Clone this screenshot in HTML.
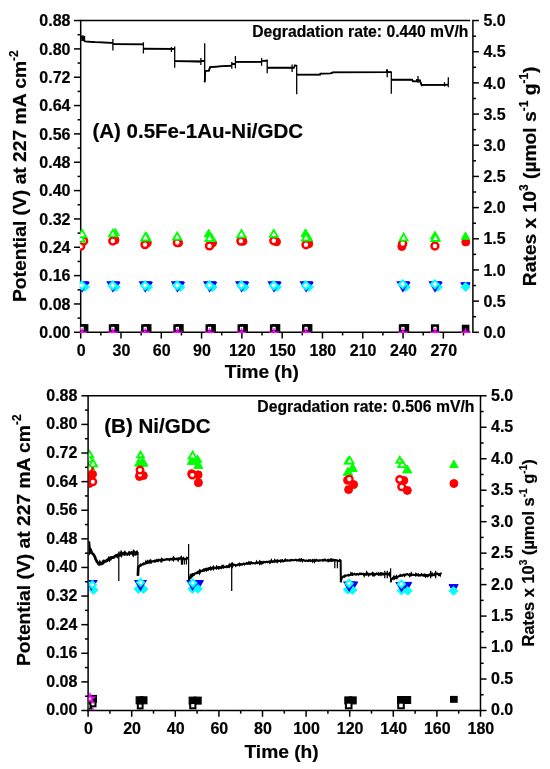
<!DOCTYPE html>
<html><head><meta charset="utf-8"><title>Degradation</title>
<style>html,body{margin:0;padding:0;background:#fff;}svg{display:block;will-change:transform;}text{font-family:"Liberation Sans",sans-serif;font-weight:bold;fill:#000;stroke:#000;stroke-width:0.2px;}</style>
</head><body>
<svg width="550" height="769" viewBox="0 0 550 769">
<rect width="550" height="769" fill="#fff"/>
<defs>
<clipPath id="cA"><rect x="79.95" y="20.55" width="390.40" height="312.50"/></clipPath>
<clipPath id="cB"><rect x="88.80" y="395.80" width="392.40" height="314.10"/></clipPath>
</defs>
<line x1="80.70" y1="20.55" x2="80.70" y2="333.05" stroke="#000" stroke-width="1.5"/>
<line x1="79.95" y1="332.30" x2="470.20" y2="332.30" stroke="#000" stroke-width="1.5"/>
<line x1="79.95" y1="20.55" x2="470.20" y2="20.55" stroke="#000" stroke-width="1.5"/>
<line x1="472.90" y1="19.80" x2="472.90" y2="333.05" stroke="#000" stroke-width="1.5"/>
<line x1="73.95" y1="332.30" x2="80.70" y2="332.30" stroke="#000" stroke-width="1.5"/>
<text x="70.50" y="338.00" font-size="16" text-anchor="end" font-family="Liberation Sans, sans-serif" font-weight="bold" >0.00</text>
<line x1="77.55" y1="318.13" x2="80.70" y2="318.13" stroke="#000" stroke-width="1.5"/>
<line x1="73.95" y1="303.96" x2="80.70" y2="303.96" stroke="#000" stroke-width="1.5"/>
<text x="70.50" y="309.66" font-size="16" text-anchor="end" font-family="Liberation Sans, sans-serif" font-weight="bold" >0.08</text>
<line x1="77.55" y1="289.79" x2="80.70" y2="289.79" stroke="#000" stroke-width="1.5"/>
<line x1="73.95" y1="275.62" x2="80.70" y2="275.62" stroke="#000" stroke-width="1.5"/>
<text x="70.50" y="281.32" font-size="16" text-anchor="end" font-family="Liberation Sans, sans-serif" font-weight="bold" >0.16</text>
<line x1="77.55" y1="261.45" x2="80.70" y2="261.45" stroke="#000" stroke-width="1.5"/>
<line x1="73.95" y1="247.28" x2="80.70" y2="247.28" stroke="#000" stroke-width="1.5"/>
<text x="70.50" y="252.98" font-size="16" text-anchor="end" font-family="Liberation Sans, sans-serif" font-weight="bold" >0.24</text>
<line x1="77.55" y1="233.11" x2="80.70" y2="233.11" stroke="#000" stroke-width="1.5"/>
<line x1="73.95" y1="218.94" x2="80.70" y2="218.94" stroke="#000" stroke-width="1.5"/>
<text x="70.50" y="224.64" font-size="16" text-anchor="end" font-family="Liberation Sans, sans-serif" font-weight="bold" >0.32</text>
<line x1="77.55" y1="204.77" x2="80.70" y2="204.77" stroke="#000" stroke-width="1.5"/>
<line x1="73.95" y1="190.60" x2="80.70" y2="190.60" stroke="#000" stroke-width="1.5"/>
<text x="70.50" y="196.30" font-size="16" text-anchor="end" font-family="Liberation Sans, sans-serif" font-weight="bold" >0.40</text>
<line x1="77.55" y1="176.43" x2="80.70" y2="176.43" stroke="#000" stroke-width="1.5"/>
<line x1="73.95" y1="162.25" x2="80.70" y2="162.25" stroke="#000" stroke-width="1.5"/>
<text x="70.50" y="167.95" font-size="16" text-anchor="end" font-family="Liberation Sans, sans-serif" font-weight="bold" >0.48</text>
<line x1="77.55" y1="148.08" x2="80.70" y2="148.08" stroke="#000" stroke-width="1.5"/>
<line x1="73.95" y1="133.91" x2="80.70" y2="133.91" stroke="#000" stroke-width="1.5"/>
<text x="70.50" y="139.61" font-size="16" text-anchor="end" font-family="Liberation Sans, sans-serif" font-weight="bold" >0.56</text>
<line x1="77.55" y1="119.74" x2="80.70" y2="119.74" stroke="#000" stroke-width="1.5"/>
<line x1="73.95" y1="105.57" x2="80.70" y2="105.57" stroke="#000" stroke-width="1.5"/>
<text x="70.50" y="111.27" font-size="16" text-anchor="end" font-family="Liberation Sans, sans-serif" font-weight="bold" >0.64</text>
<line x1="77.55" y1="91.40" x2="80.70" y2="91.40" stroke="#000" stroke-width="1.5"/>
<line x1="73.95" y1="77.23" x2="80.70" y2="77.23" stroke="#000" stroke-width="1.5"/>
<text x="70.50" y="82.93" font-size="16" text-anchor="end" font-family="Liberation Sans, sans-serif" font-weight="bold" >0.72</text>
<line x1="77.55" y1="63.06" x2="80.70" y2="63.06" stroke="#000" stroke-width="1.5"/>
<line x1="73.95" y1="48.89" x2="80.70" y2="48.89" stroke="#000" stroke-width="1.5"/>
<text x="70.50" y="54.59" font-size="16" text-anchor="end" font-family="Liberation Sans, sans-serif" font-weight="bold" >0.80</text>
<line x1="77.55" y1="34.72" x2="80.70" y2="34.72" stroke="#000" stroke-width="1.5"/>
<line x1="73.95" y1="20.55" x2="80.70" y2="20.55" stroke="#000" stroke-width="1.5"/>
<text x="70.50" y="26.25" font-size="16" text-anchor="end" font-family="Liberation Sans, sans-serif" font-weight="bold" >0.88</text>
<line x1="472.90" y1="332.30" x2="478.95" y2="332.30" stroke="#000" stroke-width="1.5"/>
<text x="483.40" y="338.00" font-size="16" text-anchor="start" font-family="Liberation Sans, sans-serif" font-weight="bold" >0.0</text>
<line x1="472.90" y1="316.71" x2="476.05" y2="316.71" stroke="#000" stroke-width="1.5"/>
<line x1="472.90" y1="301.12" x2="478.95" y2="301.12" stroke="#000" stroke-width="1.5"/>
<text x="483.40" y="306.82" font-size="16" text-anchor="start" font-family="Liberation Sans, sans-serif" font-weight="bold" >0.5</text>
<line x1="472.90" y1="285.54" x2="476.05" y2="285.54" stroke="#000" stroke-width="1.5"/>
<line x1="472.90" y1="269.95" x2="478.95" y2="269.95" stroke="#000" stroke-width="1.5"/>
<text x="483.40" y="275.65" font-size="16" text-anchor="start" font-family="Liberation Sans, sans-serif" font-weight="bold" >1.0</text>
<line x1="472.90" y1="254.36" x2="476.05" y2="254.36" stroke="#000" stroke-width="1.5"/>
<line x1="472.90" y1="238.78" x2="478.95" y2="238.78" stroke="#000" stroke-width="1.5"/>
<text x="483.40" y="244.47" font-size="16" text-anchor="start" font-family="Liberation Sans, sans-serif" font-weight="bold" >1.5</text>
<line x1="472.90" y1="223.19" x2="476.05" y2="223.19" stroke="#000" stroke-width="1.5"/>
<line x1="472.90" y1="207.60" x2="478.95" y2="207.60" stroke="#000" stroke-width="1.5"/>
<text x="483.40" y="213.30" font-size="16" text-anchor="start" font-family="Liberation Sans, sans-serif" font-weight="bold" >2.0</text>
<line x1="472.90" y1="192.01" x2="476.05" y2="192.01" stroke="#000" stroke-width="1.5"/>
<line x1="472.90" y1="176.43" x2="478.95" y2="176.43" stroke="#000" stroke-width="1.5"/>
<text x="483.40" y="182.12" font-size="16" text-anchor="start" font-family="Liberation Sans, sans-serif" font-weight="bold" >2.5</text>
<line x1="472.90" y1="160.84" x2="476.05" y2="160.84" stroke="#000" stroke-width="1.5"/>
<line x1="472.90" y1="145.25" x2="478.95" y2="145.25" stroke="#000" stroke-width="1.5"/>
<text x="483.40" y="150.95" font-size="16" text-anchor="start" font-family="Liberation Sans, sans-serif" font-weight="bold" >3.0</text>
<line x1="472.90" y1="129.66" x2="476.05" y2="129.66" stroke="#000" stroke-width="1.5"/>
<line x1="472.90" y1="114.08" x2="478.95" y2="114.08" stroke="#000" stroke-width="1.5"/>
<text x="483.40" y="119.78" font-size="16" text-anchor="start" font-family="Liberation Sans, sans-serif" font-weight="bold" >3.5</text>
<line x1="472.90" y1="98.49" x2="476.05" y2="98.49" stroke="#000" stroke-width="1.5"/>
<line x1="472.90" y1="82.90" x2="478.95" y2="82.90" stroke="#000" stroke-width="1.5"/>
<text x="483.40" y="88.60" font-size="16" text-anchor="start" font-family="Liberation Sans, sans-serif" font-weight="bold" >4.0</text>
<line x1="472.90" y1="67.31" x2="476.05" y2="67.31" stroke="#000" stroke-width="1.5"/>
<line x1="472.90" y1="51.73" x2="478.95" y2="51.73" stroke="#000" stroke-width="1.5"/>
<text x="483.40" y="57.43" font-size="16" text-anchor="start" font-family="Liberation Sans, sans-serif" font-weight="bold" >4.5</text>
<line x1="472.90" y1="36.14" x2="476.05" y2="36.14" stroke="#000" stroke-width="1.5"/>
<line x1="472.90" y1="20.55" x2="478.95" y2="20.55" stroke="#000" stroke-width="1.5"/>
<text x="483.40" y="26.25" font-size="16" text-anchor="start" font-family="Liberation Sans, sans-serif" font-weight="bold" >5.0</text>
<line x1="80.70" y1="332.30" x2="80.70" y2="338.55" stroke="#000" stroke-width="1.5"/>
<text x="81.10" y="355.90" font-size="16" text-anchor="middle" font-family="Liberation Sans, sans-serif" font-weight="bold" >0</text>
<line x1="100.85" y1="332.30" x2="100.85" y2="335.45" stroke="#000" stroke-width="1.5"/>
<line x1="120.99" y1="332.30" x2="120.99" y2="338.55" stroke="#000" stroke-width="1.5"/>
<text x="121.39" y="355.90" font-size="16" text-anchor="middle" font-family="Liberation Sans, sans-serif" font-weight="bold" >30</text>
<line x1="141.14" y1="332.30" x2="141.14" y2="335.45" stroke="#000" stroke-width="1.5"/>
<line x1="161.29" y1="332.30" x2="161.29" y2="338.55" stroke="#000" stroke-width="1.5"/>
<text x="161.69" y="355.90" font-size="16" text-anchor="middle" font-family="Liberation Sans, sans-serif" font-weight="bold" >60</text>
<line x1="181.43" y1="332.30" x2="181.43" y2="335.45" stroke="#000" stroke-width="1.5"/>
<line x1="201.58" y1="332.30" x2="201.58" y2="338.55" stroke="#000" stroke-width="1.5"/>
<text x="201.98" y="355.90" font-size="16" text-anchor="middle" font-family="Liberation Sans, sans-serif" font-weight="bold" >90</text>
<line x1="221.73" y1="332.30" x2="221.73" y2="335.45" stroke="#000" stroke-width="1.5"/>
<line x1="241.87" y1="332.30" x2="241.87" y2="338.55" stroke="#000" stroke-width="1.5"/>
<text x="242.27" y="355.90" font-size="16" text-anchor="middle" font-family="Liberation Sans, sans-serif" font-weight="bold" >120</text>
<line x1="262.02" y1="332.30" x2="262.02" y2="335.45" stroke="#000" stroke-width="1.5"/>
<line x1="282.17" y1="332.30" x2="282.17" y2="338.55" stroke="#000" stroke-width="1.5"/>
<text x="282.57" y="355.90" font-size="16" text-anchor="middle" font-family="Liberation Sans, sans-serif" font-weight="bold" >150</text>
<line x1="302.31" y1="332.30" x2="302.31" y2="335.45" stroke="#000" stroke-width="1.5"/>
<line x1="322.46" y1="332.30" x2="322.46" y2="338.55" stroke="#000" stroke-width="1.5"/>
<text x="322.86" y="355.90" font-size="16" text-anchor="middle" font-family="Liberation Sans, sans-serif" font-weight="bold" >180</text>
<line x1="342.61" y1="332.30" x2="342.61" y2="335.45" stroke="#000" stroke-width="1.5"/>
<line x1="362.75" y1="332.30" x2="362.75" y2="338.55" stroke="#000" stroke-width="1.5"/>
<text x="363.15" y="355.90" font-size="16" text-anchor="middle" font-family="Liberation Sans, sans-serif" font-weight="bold" >210</text>
<line x1="382.90" y1="332.30" x2="382.90" y2="335.45" stroke="#000" stroke-width="1.5"/>
<line x1="403.04" y1="332.30" x2="403.04" y2="338.55" stroke="#000" stroke-width="1.5"/>
<text x="403.44" y="355.90" font-size="16" text-anchor="middle" font-family="Liberation Sans, sans-serif" font-weight="bold" >240</text>
<line x1="423.19" y1="332.30" x2="423.19" y2="335.45" stroke="#000" stroke-width="1.5"/>
<line x1="443.34" y1="332.30" x2="443.34" y2="338.55" stroke="#000" stroke-width="1.5"/>
<text x="443.74" y="355.90" font-size="16" text-anchor="middle" font-family="Liberation Sans, sans-serif" font-weight="bold" >270</text>
<line x1="463.48" y1="332.30" x2="463.48" y2="335.45" stroke="#000" stroke-width="1.5"/>
<g clip-path="url(#cA)">
<polyline points="81.5,36.5 83.5,36.5 83.5,40.0 85.0,41.3 95.0,42.2 112.9,42.8 112.9,39.0 112.9,50.4 112.9,44.1 143.4,44.3 143.4,42.3 143.4,53.5 143.4,48.7 171.4,48.9 171.4,47.0 171.4,52.0 171.4,48.9 174.7,48.9 174.7,46.6 174.7,67.7 174.7,61.1 200.9,61.5 200.9,58.0 200.9,65.0 200.9,61.0 204.7,61.0 204.7,43.3 204.7,82.3 205.2,70.8 209.0,70.6 210.0,67.2 220.0,66.3 231.8,65.7 231.8,61.9 231.8,68.8 231.8,64.0 235.4,64.0 235.4,56.0 235.4,68.3 235.4,61.9 261.6,61.9 261.6,58.0 261.6,65.7 261.6,60.8 267.2,60.6 267.2,59.4 267.2,73.3 267.2,67.7 292.1,67.7 292.1,64.4 292.1,72.1 292.1,67.7 294.4,67.7 294.4,65.5 296.7,65.7 296.7,94.2 296.7,74.6 320.0,74.6 320.5,73.6 330.7,73.4 333.0,72.3 386.7,72.1 387.2,69.5 387.2,77.2 387.2,72.1 391.3,72.1 391.3,93.7 391.3,79.7 412.0,79.7 413.0,81.3 416.5,81.3 417.0,79.9 418.0,79.9 418.0,75.9 418.0,83.0 418.0,80.5 420.0,80.5 420.5,82.5 421.8,85.3 423.0,84.8 444.5,84.8 444.5,82.3 444.5,86.6 444.5,84.8 448.3,84.6 448.3,77.2 448.3,87.3" fill="none" stroke="#000" stroke-width="1.3" stroke-linejoin="miter"/>
<polyline points="81.5,36.5 83.5,36.5" fill="none" stroke="#000" stroke-width="1.85" stroke-linejoin="miter"/>
<polyline points="83.5,40.0 85.0,41.3 95.0,42.2 112.9,42.8" fill="none" stroke="#000" stroke-width="1.85" stroke-linejoin="miter"/>
<polyline points="112.9,44.1 143.4,44.3" fill="none" stroke="#000" stroke-width="1.85" stroke-linejoin="miter"/>
<polyline points="143.4,48.7 171.4,48.9" fill="none" stroke="#000" stroke-width="1.85" stroke-linejoin="miter"/>
<polyline points="171.4,48.9 174.7,48.9" fill="none" stroke="#000" stroke-width="1.85" stroke-linejoin="miter"/>
<polyline points="174.7,61.1 200.9,61.5" fill="none" stroke="#000" stroke-width="1.85" stroke-linejoin="miter"/>
<polyline points="200.9,61.0 204.7,61.0" fill="none" stroke="#000" stroke-width="1.85" stroke-linejoin="miter"/>
<polyline points="204.7,82.3 205.2,70.8 209.0,70.6 210.0,67.2 220.0,66.3 231.8,65.7" fill="none" stroke="#000" stroke-width="1.85" stroke-linejoin="miter"/>
<polyline points="231.8,64.0 235.4,64.0" fill="none" stroke="#000" stroke-width="1.85" stroke-linejoin="miter"/>
<polyline points="235.4,61.9 261.6,61.9" fill="none" stroke="#000" stroke-width="1.85" stroke-linejoin="miter"/>
<polyline points="261.6,60.8 267.2,60.6" fill="none" stroke="#000" stroke-width="1.85" stroke-linejoin="miter"/>
<polyline points="267.2,67.7 292.1,67.7" fill="none" stroke="#000" stroke-width="1.85" stroke-linejoin="miter"/>
<polyline points="292.1,67.7 294.4,67.7" fill="none" stroke="#000" stroke-width="1.85" stroke-linejoin="miter"/>
<polyline points="294.4,65.5 296.7,65.7" fill="none" stroke="#000" stroke-width="1.85" stroke-linejoin="miter"/>
<polyline points="296.7,74.6 320.0,74.6 320.5,73.6 330.7,73.4 333.0,72.3 386.7,72.1 387.2,69.5" fill="none" stroke="#000" stroke-width="1.85" stroke-linejoin="miter"/>
<polyline points="387.2,72.1 391.3,72.1" fill="none" stroke="#000" stroke-width="1.85" stroke-linejoin="miter"/>
<polyline points="391.3,79.7 412.0,79.7 413.0,81.3 416.5,81.3 417.0,79.9 418.0,79.9" fill="none" stroke="#000" stroke-width="1.85" stroke-linejoin="miter"/>
<polyline points="418.0,80.5 420.0,80.5 420.5,82.5 421.8,85.3 423.0,84.8 444.5,84.8" fill="none" stroke="#000" stroke-width="1.85" stroke-linejoin="miter"/>
<polyline points="444.5,84.8 448.3,84.6" fill="none" stroke="#000" stroke-width="1.85" stroke-linejoin="miter"/>
<rect x="81.2" y="36.0" width="4.0" height="4.9" fill="#000"/>
<rect x="81.45" y="325.35" width="5.70" height="5.70" fill="#000000" stroke="#000000" stroke-width="2.5"/>
<rect x="112.25" y="325.35" width="5.70" height="5.70" fill="#000000" stroke="#000000" stroke-width="2.5"/>
<rect x="144.55" y="325.35" width="5.70" height="5.70" fill="#000000" stroke="#000000" stroke-width="2.5"/>
<rect x="176.75" y="325.35" width="5.70" height="5.70" fill="#000000" stroke="#000000" stroke-width="2.5"/>
<rect x="208.95" y="325.35" width="5.70" height="5.70" fill="#000000" stroke="#000000" stroke-width="2.5"/>
<rect x="240.95" y="325.35" width="5.70" height="5.70" fill="#000000" stroke="#000000" stroke-width="2.5"/>
<rect x="273.35" y="325.35" width="5.70" height="5.70" fill="#000000" stroke="#000000" stroke-width="2.5"/>
<rect x="305.45" y="325.35" width="5.70" height="5.70" fill="#000000" stroke="#000000" stroke-width="2.5"/>
<rect x="402.25" y="325.35" width="5.70" height="5.70" fill="#000000" stroke="#000000" stroke-width="2.5"/>
<rect x="463.05" y="325.95" width="5.10" height="5.10" fill="#000000" stroke="#000000" stroke-width="2.5"/>
<circle cx="115.00" cy="240.00" r="4.00" fill="#ff0000" stroke="#ff0000" stroke-width="1.0"/>
<circle cx="147.30" cy="242.80" r="4.00" fill="#ff0000" stroke="#ff0000" stroke-width="1.0"/>
<circle cx="178.60" cy="242.80" r="4.00" fill="#ff0000" stroke="#ff0000" stroke-width="1.0"/>
<circle cx="212.50" cy="243.00" r="4.00" fill="#ff0000" stroke="#ff0000" stroke-width="1.0"/>
<circle cx="243.00" cy="241.30" r="4.00" fill="#ff0000" stroke="#ff0000" stroke-width="1.0"/>
<circle cx="276.50" cy="241.80" r="4.00" fill="#ff0000" stroke="#ff0000" stroke-width="1.0"/>
<circle cx="308.80" cy="243.80" r="4.00" fill="#ff0000" stroke="#ff0000" stroke-width="1.0"/>
<circle cx="401.80" cy="246.50" r="4.00" fill="#ff0000" stroke="#ff0000" stroke-width="1.0"/>
<circle cx="465.80" cy="242.00" r="4.00" fill="#ff0000" stroke="#ff0000" stroke-width="1.0"/>
<polygon points="115.30,228.40 111.09,235.70 119.51,235.70" fill="#00ff00" stroke="#00ff00" stroke-width="1.0" stroke-linejoin="miter" stroke-miterlimit="10"/>
<polygon points="146.50,232.60 141.88,240.60 151.12,240.60" fill="#00ff00" stroke="#00ff00" stroke-width="1.0" stroke-linejoin="miter" stroke-miterlimit="10"/>
<polygon points="208.70,229.20 204.20,237.00 213.20,237.00" fill="#00ff00" stroke="#00ff00" stroke-width="1.0" stroke-linejoin="miter" stroke-miterlimit="10"/>
<polygon points="211.50,233.30 206.88,241.30 216.12,241.30" fill="#00ff00" stroke="#00ff00" stroke-width="1.0" stroke-linejoin="miter" stroke-miterlimit="10"/>
<polygon points="305.50,228.80 301.05,236.50 309.95,236.50" fill="#00ff00" stroke="#00ff00" stroke-width="1.0" stroke-linejoin="miter" stroke-miterlimit="10"/>
<polygon points="308.00,232.80 303.50,240.60 312.50,240.60" fill="#00ff00" stroke="#00ff00" stroke-width="1.0" stroke-linejoin="miter" stroke-miterlimit="10"/>
<polygon points="434.90,231.20 430.40,239.00 439.40,239.00" fill="#00ff00" stroke="#00ff00" stroke-width="1.0" stroke-linejoin="miter" stroke-miterlimit="10"/>
<polygon points="465.50,232.10 461.34,239.30 469.66,239.30" fill="#00ff00" stroke="#00ff00" stroke-width="1.0" stroke-linejoin="miter" stroke-miterlimit="10"/>
<polygon points="84.30,290.60 79.39,282.10 89.21,282.10" fill="#0000ff" stroke="#0000ff" stroke-width="1.0" stroke-linejoin="miter" stroke-miterlimit="10"/>
<polygon points="115.10,290.60 110.19,282.10 120.01,282.10" fill="#0000ff" stroke="#0000ff" stroke-width="1.0" stroke-linejoin="miter" stroke-miterlimit="10"/>
<polygon points="147.40,290.60 142.49,282.10 152.31,282.10" fill="#0000ff" stroke="#0000ff" stroke-width="1.0" stroke-linejoin="miter" stroke-miterlimit="10"/>
<polygon points="179.60,290.60 174.69,282.10 184.51,282.10" fill="#0000ff" stroke="#0000ff" stroke-width="1.0" stroke-linejoin="miter" stroke-miterlimit="10"/>
<polygon points="211.80,290.60 206.89,282.10 216.71,282.10" fill="#0000ff" stroke="#0000ff" stroke-width="1.0" stroke-linejoin="miter" stroke-miterlimit="10"/>
<polygon points="243.80,290.60 238.89,282.10 248.71,282.10" fill="#0000ff" stroke="#0000ff" stroke-width="1.0" stroke-linejoin="miter" stroke-miterlimit="10"/>
<polygon points="276.20,290.60 271.29,282.10 281.11,282.10" fill="#0000ff" stroke="#0000ff" stroke-width="1.0" stroke-linejoin="miter" stroke-miterlimit="10"/>
<polygon points="308.30,290.60 303.39,282.10 313.21,282.10" fill="#0000ff" stroke="#0000ff" stroke-width="1.0" stroke-linejoin="miter" stroke-miterlimit="10"/>
<polygon points="405.10,290.60 400.19,282.10 410.01,282.10" fill="#0000ff" stroke="#0000ff" stroke-width="1.0" stroke-linejoin="miter" stroke-miterlimit="10"/>
<polygon points="437.20,290.60 432.29,282.10 442.11,282.10" fill="#0000ff" stroke="#0000ff" stroke-width="1.0" stroke-linejoin="miter" stroke-miterlimit="10"/>
<polygon points="465.60,291.00 460.81,282.70 470.39,282.70" fill="#0000ff" stroke="#0000ff" stroke-width="1.0" stroke-linejoin="miter" stroke-miterlimit="10"/>
<polygon points="85.10,282.81 89.39,287.10 85.10,291.39 80.81,287.10" fill="#00ffff" stroke="#00ffff" stroke-width="1.0" stroke-linejoin="miter"/>
<polygon points="115.90,282.81 120.19,287.10 115.90,291.39 111.61,287.10" fill="#00ffff" stroke="#00ffff" stroke-width="1.0" stroke-linejoin="miter"/>
<polygon points="148.20,282.81 152.49,287.10 148.20,291.39 143.91,287.10" fill="#00ffff" stroke="#00ffff" stroke-width="1.0" stroke-linejoin="miter"/>
<polygon points="180.40,282.81 184.69,287.10 180.40,291.39 176.11,287.10" fill="#00ffff" stroke="#00ffff" stroke-width="1.0" stroke-linejoin="miter"/>
<polygon points="212.60,282.81 216.89,287.10 212.60,291.39 208.31,287.10" fill="#00ffff" stroke="#00ffff" stroke-width="1.0" stroke-linejoin="miter"/>
<polygon points="244.60,282.81 248.89,287.10 244.60,291.39 240.31,287.10" fill="#00ffff" stroke="#00ffff" stroke-width="1.0" stroke-linejoin="miter"/>
<polygon points="277.00,282.81 281.29,287.10 277.00,291.39 272.71,287.10" fill="#00ffff" stroke="#00ffff" stroke-width="1.0" stroke-linejoin="miter"/>
<polygon points="309.10,282.81 313.39,287.10 309.10,291.39 304.81,287.10" fill="#00ffff" stroke="#00ffff" stroke-width="1.0" stroke-linejoin="miter"/>
<polygon points="405.90,282.81 410.19,287.10 405.90,291.39 401.61,287.10" fill="#00ffff" stroke="#00ffff" stroke-width="1.0" stroke-linejoin="miter"/>
<polygon points="438.00,282.81 442.29,287.10 438.00,291.39 433.71,287.10" fill="#00ffff" stroke="#00ffff" stroke-width="1.0" stroke-linejoin="miter"/>
<polygon points="465.60,282.41 470.09,286.90 465.60,291.39 461.11,286.90" fill="#00ffff" stroke="#00ffff" stroke-width="1.0" stroke-linejoin="miter"/>
<rect x="79.25" y="325.55" width="5.70" height="5.70" fill="#fff" stroke="#000000" stroke-width="2.5"/>
<rect x="110.05" y="325.55" width="5.70" height="5.70" fill="#fff" stroke="#000000" stroke-width="2.5"/>
<rect x="142.35" y="325.55" width="5.70" height="5.70" fill="#fff" stroke="#000000" stroke-width="2.5"/>
<rect x="174.55" y="325.55" width="5.70" height="5.70" fill="#fff" stroke="#000000" stroke-width="2.5"/>
<rect x="206.75" y="325.55" width="5.70" height="5.70" fill="#fff" stroke="#000000" stroke-width="2.5"/>
<rect x="238.75" y="325.55" width="5.70" height="5.70" fill="#fff" stroke="#000000" stroke-width="2.5"/>
<rect x="271.15" y="325.55" width="5.70" height="5.70" fill="#fff" stroke="#000000" stroke-width="2.5"/>
<rect x="303.25" y="325.55" width="5.70" height="5.70" fill="#fff" stroke="#000000" stroke-width="2.5"/>
<rect x="400.05" y="325.55" width="5.70" height="5.70" fill="#fff" stroke="#000000" stroke-width="2.5"/>
<rect x="432.15" y="325.55" width="5.70" height="5.70" fill="#fff" stroke="#000000" stroke-width="2.5"/>
<circle cx="80.70" cy="246.20" r="3.45" fill="#fff" stroke="#ff0000" stroke-width="2.5"/>
<circle cx="83.70" cy="241.00" r="3.45" fill="#fff" stroke="#ff0000" stroke-width="2.5"/>
<circle cx="112.80" cy="241.00" r="3.45" fill="#fff" stroke="#ff0000" stroke-width="2.5"/>
<circle cx="145.00" cy="244.60" r="3.45" fill="#fff" stroke="#ff0000" stroke-width="2.5"/>
<circle cx="177.30" cy="242.60" r="3.45" fill="#fff" stroke="#ff0000" stroke-width="2.5"/>
<circle cx="209.50" cy="245.90" r="3.45" fill="#fff" stroke="#ff0000" stroke-width="2.5"/>
<circle cx="240.90" cy="241.10" r="3.45" fill="#fff" stroke="#ff0000" stroke-width="2.5"/>
<circle cx="273.80" cy="240.70" r="3.45" fill="#fff" stroke="#ff0000" stroke-width="2.5"/>
<circle cx="306.00" cy="244.70" r="3.45" fill="#fff" stroke="#ff0000" stroke-width="2.5"/>
<circle cx="402.70" cy="243.50" r="3.45" fill="#fff" stroke="#ff0000" stroke-width="2.5"/>
<circle cx="434.90" cy="246.00" r="3.45" fill="#fff" stroke="#ff0000" stroke-width="2.5"/>
<polygon points="80.70,234.55 76.53,241.78 84.87,241.78" fill="#fff" stroke="#00ff00" stroke-width="1.85" stroke-linejoin="miter" stroke-miterlimit="10"/>
<polygon points="82.10,229.85 77.93,237.07 86.27,237.07" fill="#fff" stroke="#00ff00" stroke-width="1.85" stroke-linejoin="miter" stroke-miterlimit="10"/>
<polygon points="112.80,229.85 109.03,236.38 116.57,236.38" fill="#fff" stroke="#00ff00" stroke-width="1.85" stroke-linejoin="miter" stroke-miterlimit="10"/>
<polygon points="145.50,232.95 141.16,240.47 149.84,240.47" fill="#fff" stroke="#00ff00" stroke-width="1.85" stroke-linejoin="miter" stroke-miterlimit="10"/>
<polygon points="177.20,232.65 173.14,239.68 181.26,239.68" fill="#fff" stroke="#00ff00" stroke-width="1.85" stroke-linejoin="miter" stroke-miterlimit="10"/>
<polygon points="209.70,233.95 205.53,241.18 213.87,241.18" fill="#fff" stroke="#00ff00" stroke-width="1.85" stroke-linejoin="miter" stroke-miterlimit="10"/>
<polygon points="241.50,230.05 237.27,237.38 245.73,237.38" fill="#fff" stroke="#00ff00" stroke-width="1.85" stroke-linejoin="miter" stroke-miterlimit="10"/>
<polygon points="273.80,230.05 269.86,236.88 277.74,236.88" fill="#fff" stroke="#00ff00" stroke-width="1.85" stroke-linejoin="miter" stroke-miterlimit="10"/>
<polygon points="306.00,233.45 301.94,240.48 310.06,240.48" fill="#fff" stroke="#00ff00" stroke-width="1.85" stroke-linejoin="miter" stroke-miterlimit="10"/>
<polygon points="403.60,233.65 399.66,240.48 407.54,240.48" fill="#fff" stroke="#00ff00" stroke-width="1.85" stroke-linejoin="miter" stroke-miterlimit="10"/>
<polygon points="435.50,233.95 431.44,240.98 439.56,240.98" fill="#fff" stroke="#00ff00" stroke-width="1.85" stroke-linejoin="miter" stroke-miterlimit="10"/>
<polygon points="82.10,290.80 77.16,282.25 87.04,282.25" fill="#fff" stroke="#0000ff" stroke-width="1.9" stroke-linejoin="miter" stroke-miterlimit="10"/>
<polygon points="112.90,290.80 107.96,282.25 117.84,282.25" fill="#fff" stroke="#0000ff" stroke-width="1.9" stroke-linejoin="miter" stroke-miterlimit="10"/>
<polygon points="145.20,290.80 140.26,282.25 150.14,282.25" fill="#fff" stroke="#0000ff" stroke-width="1.9" stroke-linejoin="miter" stroke-miterlimit="10"/>
<polygon points="177.40,290.80 172.46,282.25 182.34,282.25" fill="#fff" stroke="#0000ff" stroke-width="1.9" stroke-linejoin="miter" stroke-miterlimit="10"/>
<polygon points="209.60,290.80 204.66,282.25 214.54,282.25" fill="#fff" stroke="#0000ff" stroke-width="1.9" stroke-linejoin="miter" stroke-miterlimit="10"/>
<polygon points="241.60,290.80 236.66,282.25 246.54,282.25" fill="#fff" stroke="#0000ff" stroke-width="1.9" stroke-linejoin="miter" stroke-miterlimit="10"/>
<polygon points="274.00,290.80 269.06,282.25 278.94,282.25" fill="#fff" stroke="#0000ff" stroke-width="1.9" stroke-linejoin="miter" stroke-miterlimit="10"/>
<polygon points="306.10,290.80 301.16,282.25 311.04,282.25" fill="#fff" stroke="#0000ff" stroke-width="1.9" stroke-linejoin="miter" stroke-miterlimit="10"/>
<polygon points="402.90,290.80 397.96,282.25 407.84,282.25" fill="#fff" stroke="#0000ff" stroke-width="1.9" stroke-linejoin="miter" stroke-miterlimit="10"/>
<polygon points="435.00,290.80 430.06,282.25 439.94,282.25" fill="#fff" stroke="#0000ff" stroke-width="1.9" stroke-linejoin="miter" stroke-miterlimit="10"/>
<polygon points="81.90,281.51 85.79,285.40 81.90,289.29 78.01,285.40" fill="#fff" stroke="#00ffff" stroke-width="2.0" stroke-linejoin="miter"/>
<polygon points="112.70,281.51 116.59,285.40 112.70,289.29 108.81,285.40" fill="#fff" stroke="#00ffff" stroke-width="2.0" stroke-linejoin="miter"/>
<polygon points="145.00,281.51 148.89,285.40 145.00,289.29 141.11,285.40" fill="#fff" stroke="#00ffff" stroke-width="2.0" stroke-linejoin="miter"/>
<polygon points="177.20,281.51 181.09,285.40 177.20,289.29 173.31,285.40" fill="#fff" stroke="#00ffff" stroke-width="2.0" stroke-linejoin="miter"/>
<polygon points="209.40,281.51 213.29,285.40 209.40,289.29 205.51,285.40" fill="#fff" stroke="#00ffff" stroke-width="2.0" stroke-linejoin="miter"/>
<polygon points="241.40,281.51 245.29,285.40 241.40,289.29 237.51,285.40" fill="#fff" stroke="#00ffff" stroke-width="2.0" stroke-linejoin="miter"/>
<polygon points="273.80,281.51 277.69,285.40 273.80,289.29 269.91,285.40" fill="#fff" stroke="#00ffff" stroke-width="2.0" stroke-linejoin="miter"/>
<polygon points="305.90,281.51 309.79,285.40 305.90,289.29 302.01,285.40" fill="#fff" stroke="#00ffff" stroke-width="2.0" stroke-linejoin="miter"/>
<polygon points="402.70,280.41 406.59,284.30 402.70,288.19 398.81,284.30" fill="#fff" stroke="#00ffff" stroke-width="2.0" stroke-linejoin="miter"/>
<polygon points="434.80,280.41 438.69,284.30 434.80,288.19 430.91,284.30" fill="#fff" stroke="#00ffff" stroke-width="2.0" stroke-linejoin="miter"/>
<polygon points="82.10,327.75 83.41,331.65 87.52,331.69 84.21,334.14 85.45,338.06 82.10,335.67 78.75,338.06 79.99,334.14 76.68,331.69 80.79,331.65" fill="#ff00ff" stroke="#ff00ff" stroke-width="0.4"/>
<polygon points="112.90,327.75 114.21,331.65 118.32,331.69 115.01,334.14 116.25,338.06 112.90,335.67 109.55,338.06 110.79,334.14 107.48,331.69 111.59,331.65" fill="#ff00ff" stroke="#ff00ff" stroke-width="0.4"/>
<polygon points="145.20,327.75 146.51,331.65 150.62,331.69 147.31,334.14 148.55,338.06 145.20,335.67 141.85,338.06 143.09,334.14 139.78,331.69 143.89,331.65" fill="#ff00ff" stroke="#ff00ff" stroke-width="0.4"/>
<polygon points="177.40,327.75 178.71,331.65 182.82,331.69 179.51,334.14 180.75,338.06 177.40,335.67 174.05,338.06 175.29,334.14 171.98,331.69 176.09,331.65" fill="#ff00ff" stroke="#ff00ff" stroke-width="0.4"/>
<polygon points="209.60,327.75 210.91,331.65 215.02,331.69 211.71,334.14 212.95,338.06 209.60,335.67 206.25,338.06 207.49,334.14 204.18,331.69 208.29,331.65" fill="#ff00ff" stroke="#ff00ff" stroke-width="0.4"/>
<polygon points="241.60,327.75 242.91,331.65 247.02,331.69 243.71,334.14 244.95,338.06 241.60,335.67 238.25,338.06 239.49,334.14 236.18,331.69 240.29,331.65" fill="#ff00ff" stroke="#ff00ff" stroke-width="0.4"/>
<polygon points="274.00,327.75 275.31,331.65 279.42,331.69 276.11,334.14 277.35,338.06 274.00,335.67 270.65,338.06 271.89,334.14 268.58,331.69 272.69,331.65" fill="#ff00ff" stroke="#ff00ff" stroke-width="0.4"/>
<polygon points="306.10,327.75 307.41,331.65 311.52,331.69 308.21,334.14 309.45,338.06 306.10,335.67 302.75,338.06 303.99,334.14 300.68,331.69 304.79,331.65" fill="#ff00ff" stroke="#ff00ff" stroke-width="0.4"/>
<polygon points="402.90,327.75 404.21,331.65 408.32,331.69 405.01,334.14 406.25,338.06 402.90,335.67 399.55,338.06 400.79,334.14 397.48,331.69 401.59,331.65" fill="#ff00ff" stroke="#ff00ff" stroke-width="0.4"/>
<polygon points="435.00,327.75 436.31,331.65 440.42,331.69 437.11,334.14 438.35,338.06 435.00,335.67 431.65,338.06 432.89,334.14 429.58,331.69 433.69,331.65" fill="#ff00ff" stroke="#ff00ff" stroke-width="0.4"/>
<polygon points="465.60,327.75 466.91,331.65 471.02,331.69 467.71,334.14 468.95,338.06 465.60,335.67 462.25,338.06 463.49,334.14 460.18,331.69 464.29,331.65" fill="#ff00ff" stroke="#ff00ff" stroke-width="0.4"/>
</g>
<text x="92.40" y="137.60" font-size="20.5" text-anchor="start" font-family="Liberation Sans, sans-serif" font-weight="bold" >(A) 0.5Fe-1Au-Ni/GDC</text>
<text x="468.40" y="36.70" font-size="15.7" text-anchor="end" font-family="Liberation Sans, sans-serif" font-weight="bold" >Degradation rate: 0.440 mV/h</text>
<text x="261.80" y="377.50" font-size="19.1" text-anchor="middle" font-family="Liberation Sans, sans-serif" font-weight="bold" >Time (h)</text>
<text transform="translate(26.40,176.20) rotate(-90)" font-size="19.25" text-anchor="middle" font-family="Liberation Sans, sans-serif" font-weight="bold">Potential (V) at 227 mA cm<tspan font-size="11.9" dy="-8.9">-2</tspan></text>
<text transform="translate(536.40,176.40) rotate(-90)" font-size="19.25" text-anchor="middle" font-family="Liberation Sans, sans-serif" font-weight="bold">Rates x 10<tspan font-size="11.9" dy="-8.9">3</tspan><tspan dy="8.9"> (µmol s</tspan><tspan font-size="11.9" dy="-8.9">-1</tspan><tspan dy="8.9"> g</tspan><tspan font-size="11.9" dy="-8.9">-1</tspan><tspan dy="8.9">)</tspan></text>
<line x1="88.10" y1="395.80" x2="88.10" y2="711.25" stroke="#000" stroke-width="1.5"/>
<line x1="87.35" y1="710.50" x2="481.25" y2="710.50" stroke="#000" stroke-width="1.5"/>
<line x1="87.35" y1="395.80" x2="481.25" y2="395.80" stroke="#000" stroke-width="1.5"/>
<line x1="480.50" y1="395.05" x2="480.50" y2="711.25" stroke="#000" stroke-width="1.5"/>
<line x1="81.35" y1="710.50" x2="88.10" y2="710.50" stroke="#000" stroke-width="1.5"/>
<text x="77.40" y="715.40" font-size="16" text-anchor="end" font-family="Liberation Sans, sans-serif" font-weight="bold" >0.00</text>
<line x1="84.95" y1="696.20" x2="88.10" y2="696.20" stroke="#000" stroke-width="1.5"/>
<line x1="81.35" y1="681.89" x2="88.10" y2="681.89" stroke="#000" stroke-width="1.5"/>
<text x="77.40" y="686.79" font-size="16" text-anchor="end" font-family="Liberation Sans, sans-serif" font-weight="bold" >0.08</text>
<line x1="84.95" y1="667.59" x2="88.10" y2="667.59" stroke="#000" stroke-width="1.5"/>
<line x1="81.35" y1="653.28" x2="88.10" y2="653.28" stroke="#000" stroke-width="1.5"/>
<text x="77.40" y="658.18" font-size="16" text-anchor="end" font-family="Liberation Sans, sans-serif" font-weight="bold" >0.16</text>
<line x1="84.95" y1="638.98" x2="88.10" y2="638.98" stroke="#000" stroke-width="1.5"/>
<line x1="81.35" y1="624.67" x2="88.10" y2="624.67" stroke="#000" stroke-width="1.5"/>
<text x="77.40" y="629.57" font-size="16" text-anchor="end" font-family="Liberation Sans, sans-serif" font-weight="bold" >0.24</text>
<line x1="84.95" y1="610.37" x2="88.10" y2="610.37" stroke="#000" stroke-width="1.5"/>
<line x1="81.35" y1="596.06" x2="88.10" y2="596.06" stroke="#000" stroke-width="1.5"/>
<text x="77.40" y="600.96" font-size="16" text-anchor="end" font-family="Liberation Sans, sans-serif" font-weight="bold" >0.32</text>
<line x1="84.95" y1="581.76" x2="88.10" y2="581.76" stroke="#000" stroke-width="1.5"/>
<line x1="81.35" y1="567.45" x2="88.10" y2="567.45" stroke="#000" stroke-width="1.5"/>
<text x="77.40" y="572.35" font-size="16" text-anchor="end" font-family="Liberation Sans, sans-serif" font-weight="bold" >0.40</text>
<line x1="84.95" y1="553.15" x2="88.10" y2="553.15" stroke="#000" stroke-width="1.5"/>
<line x1="81.35" y1="538.85" x2="88.10" y2="538.85" stroke="#000" stroke-width="1.5"/>
<text x="77.40" y="543.75" font-size="16" text-anchor="end" font-family="Liberation Sans, sans-serif" font-weight="bold" >0.48</text>
<line x1="84.95" y1="524.54" x2="88.10" y2="524.54" stroke="#000" stroke-width="1.5"/>
<line x1="81.35" y1="510.24" x2="88.10" y2="510.24" stroke="#000" stroke-width="1.5"/>
<text x="77.40" y="515.14" font-size="16" text-anchor="end" font-family="Liberation Sans, sans-serif" font-weight="bold" >0.56</text>
<line x1="84.95" y1="495.93" x2="88.10" y2="495.93" stroke="#000" stroke-width="1.5"/>
<line x1="81.35" y1="481.63" x2="88.10" y2="481.63" stroke="#000" stroke-width="1.5"/>
<text x="77.40" y="486.53" font-size="16" text-anchor="end" font-family="Liberation Sans, sans-serif" font-weight="bold" >0.64</text>
<line x1="84.95" y1="467.32" x2="88.10" y2="467.32" stroke="#000" stroke-width="1.5"/>
<line x1="81.35" y1="453.02" x2="88.10" y2="453.02" stroke="#000" stroke-width="1.5"/>
<text x="77.40" y="457.92" font-size="16" text-anchor="end" font-family="Liberation Sans, sans-serif" font-weight="bold" >0.72</text>
<line x1="84.95" y1="438.71" x2="88.10" y2="438.71" stroke="#000" stroke-width="1.5"/>
<line x1="81.35" y1="424.41" x2="88.10" y2="424.41" stroke="#000" stroke-width="1.5"/>
<text x="77.40" y="429.31" font-size="16" text-anchor="end" font-family="Liberation Sans, sans-serif" font-weight="bold" >0.80</text>
<line x1="84.95" y1="410.10" x2="88.10" y2="410.10" stroke="#000" stroke-width="1.5"/>
<line x1="81.35" y1="395.80" x2="88.10" y2="395.80" stroke="#000" stroke-width="1.5"/>
<text x="77.40" y="400.70" font-size="16" text-anchor="end" font-family="Liberation Sans, sans-serif" font-weight="bold" >0.88</text>
<line x1="480.50" y1="710.50" x2="486.55" y2="710.50" stroke="#000" stroke-width="1.5"/>
<text x="491.00" y="715.40" font-size="16" text-anchor="start" font-family="Liberation Sans, sans-serif" font-weight="bold" >0.0</text>
<line x1="480.50" y1="694.76" x2="483.65" y2="694.76" stroke="#000" stroke-width="1.5"/>
<line x1="480.50" y1="679.03" x2="486.55" y2="679.03" stroke="#000" stroke-width="1.5"/>
<text x="491.00" y="683.93" font-size="16" text-anchor="start" font-family="Liberation Sans, sans-serif" font-weight="bold" >0.5</text>
<line x1="480.50" y1="663.29" x2="483.65" y2="663.29" stroke="#000" stroke-width="1.5"/>
<line x1="480.50" y1="647.56" x2="486.55" y2="647.56" stroke="#000" stroke-width="1.5"/>
<text x="491.00" y="652.46" font-size="16" text-anchor="start" font-family="Liberation Sans, sans-serif" font-weight="bold" >1.0</text>
<line x1="480.50" y1="631.83" x2="483.65" y2="631.83" stroke="#000" stroke-width="1.5"/>
<line x1="480.50" y1="616.09" x2="486.55" y2="616.09" stroke="#000" stroke-width="1.5"/>
<text x="491.00" y="620.99" font-size="16" text-anchor="start" font-family="Liberation Sans, sans-serif" font-weight="bold" >1.5</text>
<line x1="480.50" y1="600.36" x2="483.65" y2="600.36" stroke="#000" stroke-width="1.5"/>
<line x1="480.50" y1="584.62" x2="486.55" y2="584.62" stroke="#000" stroke-width="1.5"/>
<text x="491.00" y="589.52" font-size="16" text-anchor="start" font-family="Liberation Sans, sans-serif" font-weight="bold" >2.0</text>
<line x1="480.50" y1="568.88" x2="483.65" y2="568.88" stroke="#000" stroke-width="1.5"/>
<line x1="480.50" y1="553.15" x2="486.55" y2="553.15" stroke="#000" stroke-width="1.5"/>
<text x="491.00" y="558.05" font-size="16" text-anchor="start" font-family="Liberation Sans, sans-serif" font-weight="bold" >2.5</text>
<line x1="480.50" y1="537.41" x2="483.65" y2="537.41" stroke="#000" stroke-width="1.5"/>
<line x1="480.50" y1="521.68" x2="486.55" y2="521.68" stroke="#000" stroke-width="1.5"/>
<text x="491.00" y="526.58" font-size="16" text-anchor="start" font-family="Liberation Sans, sans-serif" font-weight="bold" >3.0</text>
<line x1="480.50" y1="505.94" x2="483.65" y2="505.94" stroke="#000" stroke-width="1.5"/>
<line x1="480.50" y1="490.21" x2="486.55" y2="490.21" stroke="#000" stroke-width="1.5"/>
<text x="491.00" y="495.11" font-size="16" text-anchor="start" font-family="Liberation Sans, sans-serif" font-weight="bold" >3.5</text>
<line x1="480.50" y1="474.48" x2="483.65" y2="474.48" stroke="#000" stroke-width="1.5"/>
<line x1="480.50" y1="458.74" x2="486.55" y2="458.74" stroke="#000" stroke-width="1.5"/>
<text x="491.00" y="463.64" font-size="16" text-anchor="start" font-family="Liberation Sans, sans-serif" font-weight="bold" >4.0</text>
<line x1="480.50" y1="443.00" x2="483.65" y2="443.00" stroke="#000" stroke-width="1.5"/>
<line x1="480.50" y1="427.27" x2="486.55" y2="427.27" stroke="#000" stroke-width="1.5"/>
<text x="491.00" y="432.17" font-size="16" text-anchor="start" font-family="Liberation Sans, sans-serif" font-weight="bold" >4.5</text>
<line x1="480.50" y1="411.53" x2="483.65" y2="411.53" stroke="#000" stroke-width="1.5"/>
<line x1="480.50" y1="395.80" x2="486.55" y2="395.80" stroke="#000" stroke-width="1.5"/>
<text x="491.00" y="400.70" font-size="16" text-anchor="start" font-family="Liberation Sans, sans-serif" font-weight="bold" >5.0</text>
<line x1="88.10" y1="710.50" x2="88.10" y2="716.75" stroke="#000" stroke-width="1.5"/>
<text x="88.50" y="734.10" font-size="16" text-anchor="middle" font-family="Liberation Sans, sans-serif" font-weight="bold" >0</text>
<line x1="109.90" y1="710.50" x2="109.90" y2="713.65" stroke="#000" stroke-width="1.5"/>
<line x1="131.70" y1="710.50" x2="131.70" y2="716.75" stroke="#000" stroke-width="1.5"/>
<text x="132.10" y="734.10" font-size="16" text-anchor="middle" font-family="Liberation Sans, sans-serif" font-weight="bold" >20</text>
<line x1="153.50" y1="710.50" x2="153.50" y2="713.65" stroke="#000" stroke-width="1.5"/>
<line x1="175.30" y1="710.50" x2="175.30" y2="716.75" stroke="#000" stroke-width="1.5"/>
<text x="175.70" y="734.10" font-size="16" text-anchor="middle" font-family="Liberation Sans, sans-serif" font-weight="bold" >40</text>
<line x1="197.10" y1="710.50" x2="197.10" y2="713.65" stroke="#000" stroke-width="1.5"/>
<line x1="218.90" y1="710.50" x2="218.90" y2="716.75" stroke="#000" stroke-width="1.5"/>
<text x="219.30" y="734.10" font-size="16" text-anchor="middle" font-family="Liberation Sans, sans-serif" font-weight="bold" >60</text>
<line x1="240.70" y1="710.50" x2="240.70" y2="713.65" stroke="#000" stroke-width="1.5"/>
<line x1="262.50" y1="710.50" x2="262.50" y2="716.75" stroke="#000" stroke-width="1.5"/>
<text x="262.90" y="734.10" font-size="16" text-anchor="middle" font-family="Liberation Sans, sans-serif" font-weight="bold" >80</text>
<line x1="284.30" y1="710.50" x2="284.30" y2="713.65" stroke="#000" stroke-width="1.5"/>
<line x1="306.10" y1="710.50" x2="306.10" y2="716.75" stroke="#000" stroke-width="1.5"/>
<text x="306.50" y="734.10" font-size="16" text-anchor="middle" font-family="Liberation Sans, sans-serif" font-weight="bold" >100</text>
<line x1="327.90" y1="710.50" x2="327.90" y2="713.65" stroke="#000" stroke-width="1.5"/>
<line x1="349.70" y1="710.50" x2="349.70" y2="716.75" stroke="#000" stroke-width="1.5"/>
<text x="350.10" y="734.10" font-size="16" text-anchor="middle" font-family="Liberation Sans, sans-serif" font-weight="bold" >120</text>
<line x1="371.50" y1="710.50" x2="371.50" y2="713.65" stroke="#000" stroke-width="1.5"/>
<line x1="393.30" y1="710.50" x2="393.30" y2="716.75" stroke="#000" stroke-width="1.5"/>
<text x="393.70" y="734.10" font-size="16" text-anchor="middle" font-family="Liberation Sans, sans-serif" font-weight="bold" >140</text>
<line x1="415.10" y1="710.50" x2="415.10" y2="713.65" stroke="#000" stroke-width="1.5"/>
<line x1="436.90" y1="710.50" x2="436.90" y2="716.75" stroke="#000" stroke-width="1.5"/>
<text x="437.30" y="734.10" font-size="16" text-anchor="middle" font-family="Liberation Sans, sans-serif" font-weight="bold" >160</text>
<line x1="458.70" y1="710.50" x2="458.70" y2="713.65" stroke="#000" stroke-width="1.5"/>
<line x1="480.50" y1="710.50" x2="480.50" y2="716.75" stroke="#000" stroke-width="1.5"/>
<text x="480.90" y="734.10" font-size="16" text-anchor="middle" font-family="Liberation Sans, sans-serif" font-weight="bold" >180</text>
<g clip-path="url(#cB)">
<polyline points="88.8,541.5 89.4,547.0 90.1,551.6 90.5,550.9 91.0,550.5 91.5,552.1 92.0,553.0 92.5,553.4 93.0,554.0 93.4,554.1 93.9,555.4 94.5,556.1 95.0,557.0 95.5,558.9 96.0,559.6 96.5,560.5 97.0,562.1 97.5,562.3 98.0,563.0 98.5,564.0 99.0,564.4 99.5,564.2 100.0,562.6 100.5,563.4 101.0,564.1 101.5,564.0 102.0,563.8 102.5,563.6 103.0,561.6 103.6,561.1 104.1,561.8 104.6,561.1 105.1,561.1 105.5,561.3 106.0,560.9 106.5,561.0 107.0,560.5 107.5,559.8 108.0,559.9 108.5,559.6 108.9,558.7 109.4,559.6 109.9,558.6 110.4,558.0 110.9,558.5 111.4,557.5 112.0,557.4 112.5,557.5 113.0,557.6 113.5,557.2 114.0,557.3 114.5,556.7 115.0,556.3 115.5,555.9 116.0,555.5 116.5,555.6 117.1,556.3 117.6,555.1 118.1,555.4 118.8,555.4 118.8,551.6 118.8,580.9 118.8,555.3 119.3,555.3 119.7,555.2 120.2,554.1 120.6,554.7 121.1,555.2 121.5,553.3 122.0,554.2 122.5,553.9 122.9,553.9 123.4,553.5 123.8,554.0 124.3,553.7 124.8,552.9 125.2,553.9 125.7,553.4 126.2,553.8 126.6,554.1 127.1,554.4 127.5,554.0 128.0,553.9 128.5,553.8 129.0,553.0 129.5,553.8 130.0,553.1 130.5,553.0 131.0,553.1 131.5,552.6 132.0,552.8 132.5,553.1 133.0,554.1 133.5,552.5 134.0,553.6 134.5,552.8 134.9,553.7 135.4,554.2 135.8,553.8 136.3,552.5 136.7,552.2 137.2,553.4 137.9,552.9 137.9,575.8 138.3,566.9 138.9,566.6 139.4,565.6 140.0,565.5 140.5,564.8 141.0,565.4 141.5,565.1 142.0,564.5 142.5,564.2 143.0,564.1 143.5,563.6 143.9,564.1 144.4,563.6 144.8,563.5 145.3,563.4 145.8,562.3 146.2,563.4 146.7,563.2 147.1,562.9 147.6,561.7 148.0,562.4 148.5,562.0 148.9,562.5 149.4,561.3 149.9,561.9 150.4,562.2 150.8,561.1 151.3,562.3 151.8,561.7 152.3,561.3 152.8,561.4 153.2,561.4 153.7,561.0 154.1,561.0 154.6,561.4 155.0,560.6 155.5,560.6 155.9,561.2 156.4,560.7 156.8,560.2 157.3,560.9 157.8,561.1 158.2,560.2 158.7,559.8 159.1,560.3 159.6,560.2 160.0,560.2 160.5,560.0 160.9,560.7 161.4,559.6 161.8,560.5 162.3,559.3 162.7,559.5 163.2,560.0 163.7,560.2 164.1,560.0 164.6,559.7 165.0,559.6 165.5,559.5 165.9,559.6 166.4,559.3 166.9,559.2 167.3,559.4 167.8,559.5 168.2,559.2 168.7,559.5 169.1,559.4 169.6,560.0 170.0,559.3 170.5,558.9 170.9,558.9 171.4,559.1 171.8,559.4 172.3,558.9 172.7,559.2 173.2,559.8 173.6,557.9 174.1,558.5 174.5,559.0 175.0,558.9 175.5,559.1 176.0,559.0 176.4,558.7 176.9,559.1 177.4,558.9 177.9,558.6 178.3,559.8 178.8,558.9 179.3,558.5 179.8,558.7 180.3,558.6 180.7,558.7 181.2,557.6 181.7,558.7 182.0,564.6 182.0,558.7 182.5,558.5 182.9,559.1 183.4,558.2 183.8,558.7 184.3,558.7 184.3,564.6 184.3,558.7 184.8,559.1 185.4,559.0 185.9,559.2 186.4,558.5 186.4,564.4 186.4,558.5 186.9,557.8 187.5,558.4 188.1,558.4 188.6,558.5 188.6,544.0 188.6,579.6 189.1,579.2 189.5,578.3 190.0,578.2 190.5,576.0 191.0,577.0 191.5,576.0 192.0,575.0 192.5,575.6 192.9,574.3 193.4,574.6 193.9,574.7 194.4,573.8 194.9,573.5 195.4,573.4 195.9,573.4 196.5,572.8 197.0,572.5 197.5,572.9 198.0,572.0 198.5,572.3 199.0,571.6 199.5,572.7 200.0,570.9 200.5,571.6 201.0,570.9 201.5,570.9 202.0,570.7 202.5,570.9 202.9,570.5 203.4,570.6 203.8,569.5 204.3,569.4 204.7,570.2 205.2,569.4 205.6,569.3 206.1,568.9 206.5,570.0 207.0,569.3 207.5,569.5 207.9,569.7 208.4,568.6 208.9,568.9 209.4,568.3 209.8,569.0 210.3,569.3 210.8,568.1 211.3,569.1 211.7,568.7 212.2,568.2 212.7,568.1 213.2,567.3 213.6,568.6 214.1,567.9 214.6,567.7 215.1,568.0 215.6,568.0 216.1,568.4 216.6,567.2 217.0,568.1 217.5,568.2 218.0,567.5 218.5,568.1 218.9,567.3 219.4,567.1 219.9,567.8 220.3,567.3 220.8,567.3 221.3,567.8 221.7,567.1 222.2,566.2 222.7,566.9 223.1,566.3 223.6,567.4 224.1,567.1 224.5,566.7 225.0,566.9 225.4,566.8 225.9,567.0 226.3,566.6 226.8,567.0 227.2,566.3 227.7,566.7 228.2,566.8 228.6,566.7 229.1,565.6 229.5,566.2 230.0,564.9 230.4,565.6 231.1,565.1 231.7,565.5 231.7,562.6 231.7,591.0 231.7,565.3 232.2,564.4 232.6,565.7 233.1,564.6 233.5,565.1 234.0,565.0 234.5,565.0 234.9,564.7 235.4,565.0 235.8,565.6 236.3,564.9 236.8,565.0 237.2,565.1 237.7,564.6 238.2,564.2 238.6,564.4 239.1,565.0 239.5,563.9 240.0,564.5 240.5,564.2 240.9,564.8 241.4,564.7 241.8,564.3 242.3,564.6 242.8,564.3 243.2,563.7 243.7,563.5 244.2,563.8 244.6,564.4 245.1,563.7 245.5,563.6 246.0,563.6 246.5,563.2 246.9,563.7 247.4,563.3 247.8,563.8 248.3,563.6 248.8,562.7 249.2,563.6 249.7,563.2 250.1,562.7 250.6,563.7 251.1,563.2 251.5,562.5 252.0,562.9 252.5,563.3 252.9,563.0 253.4,563.4 253.8,563.4 254.3,563.3 254.8,563.1 255.2,563.5 255.7,563.2 256.2,563.0 256.6,562.0 257.1,563.1 257.5,563.2 258.0,562.7 258.5,562.5 258.9,562.4 259.4,563.3 259.8,561.9 260.3,562.7 260.8,563.4 261.2,562.1 261.7,562.6 262.1,563.1 262.6,562.3 263.1,562.5 263.5,562.6 264.0,561.8 264.5,562.1 264.9,562.2 265.4,562.4 265.8,562.0 266.3,561.9 266.8,561.6 267.2,561.8 267.7,562.2 268.1,561.9 268.6,561.8 269.1,561.4 269.5,561.4 270.0,562.7 270.5,562.1 270.9,561.8 271.4,560.5 271.9,561.7 272.3,561.6 272.8,562.0 273.3,561.5 273.7,561.3 274.2,561.5 274.7,560.5 275.1,561.6 275.6,561.3 276.1,560.8 276.5,561.5 277.0,561.0 277.5,561.7 277.9,560.4 278.4,560.7 278.9,561.0 279.4,560.9 279.8,560.7 280.3,560.5 280.8,561.6 281.2,561.2 281.7,560.3 282.2,560.2 282.6,561.3 283.1,561.1 283.6,561.3 284.0,560.9 284.5,560.3 285.0,560.7 285.5,559.7 285.9,560.2 286.4,560.5 286.9,560.5 287.3,560.7 287.8,560.2 288.2,560.4 288.7,560.6 289.1,560.5 289.6,560.6 290.0,560.4 290.5,560.2 290.9,560.6 291.4,560.3 291.8,559.9 292.3,560.0 292.7,560.2 293.2,560.1 293.6,560.2 294.1,560.1 294.5,560.2 295.0,560.1 295.5,560.1 295.9,559.7 296.4,560.3 296.8,560.6 297.3,560.3 297.7,560.1 298.2,560.4 298.6,559.9 299.1,559.5 299.5,560.3 300.0,559.9 300.4,560.6 300.9,559.9 301.4,559.3 301.8,559.9 302.3,560.9 302.7,560.2 303.2,559.9 303.6,560.1 304.1,560.6 304.5,560.6 305.0,560.5 305.4,561.0 305.9,560.7 306.3,560.5 306.8,560.5 307.3,560.7 307.7,561.1 308.2,560.8 308.6,560.9 309.1,560.1 309.5,560.4 310.0,560.7 310.4,560.3 310.9,560.8 311.4,560.7 311.8,560.8 312.3,560.3 312.7,561.4 313.2,560.9 313.6,560.3 314.1,560.4 314.5,561.4 315.0,560.2 315.4,560.7 315.9,560.7 316.4,560.4 316.8,559.9 317.3,560.4 317.7,560.5 318.2,560.8 318.6,560.6 319.1,560.3 319.5,560.6 320.0,560.3 320.5,560.5 320.9,560.4 321.4,560.3 321.9,560.2 322.3,560.6 322.8,559.9 323.2,560.1 323.7,560.4 324.2,559.8 324.6,560.2 325.1,559.6 325.6,560.1 326.0,560.6 326.5,560.6 326.9,560.4 327.4,560.3 327.9,559.9 328.3,561.1 328.8,560.6 329.2,560.8 329.7,560.1 330.2,560.4 330.6,559.8 331.1,560.7 331.6,560.8 332.0,559.7 332.5,560.4 332.9,560.7 333.4,559.8 333.9,559.8 334.3,560.1 334.8,560.5 334.8,568.2 334.8,560.5 335.3,560.3 335.8,560.0 336.4,560.5 336.9,560.6 337.4,560.5 337.4,568.2 337.4,560.5 337.9,560.7 338.3,560.8 338.8,561.1 339.2,560.9 339.7,560.0 340.1,560.2 340.6,560.5 340.8,582.2 341.5,579.0 342.1,577.5 342.8,577.1 343.3,576.4 343.7,576.7 344.2,576.5 344.6,576.6 345.1,575.4 345.5,575.4 346.0,575.8 346.5,575.7 346.9,575.5 347.4,575.4 347.9,575.4 348.3,575.0 348.8,575.6 349.3,575.4 349.7,575.1 350.2,574.7 350.7,574.8 351.1,573.5 351.6,574.3 352.1,574.7 352.5,573.8 353.0,574.5 353.5,574.6 353.9,574.5 354.4,573.8 354.8,574.3 355.3,574.2 355.8,574.6 356.2,574.7 356.7,574.3 357.2,573.9 357.6,574.2 358.1,574.3 358.5,574.6 359.0,574.4 359.5,573.9 359.9,573.5 360.4,574.0 360.8,573.8 361.3,573.6 361.8,574.1 362.2,573.9 362.7,574.1 363.2,574.3 363.6,573.9 364.1,575.2 364.5,573.9 365.0,574.0 365.5,574.5 365.9,574.1 366.4,574.5 366.8,572.8 367.3,573.6 367.7,574.1 368.2,574.3 368.6,575.1 369.1,574.1 369.5,574.6 370.0,574.3 370.4,574.4 370.9,574.2 371.3,573.9 371.8,574.2 372.2,573.4 372.7,574.5 373.1,573.4 373.6,574.0 374.0,575.0 374.5,573.8 374.9,573.9 375.4,574.5 375.8,573.9 376.3,573.5 376.7,574.0 377.2,574.2 377.6,574.2 378.1,573.5 378.5,574.7 379.0,574.7 379.4,573.9 379.9,574.0 380.3,573.6 380.8,574.5 381.2,573.5 381.7,574.2 382.1,573.6 382.6,573.5 383.0,574.2 383.5,573.8 384.1,574.5 384.8,573.8 384.8,570.7 384.8,578.3 384.8,573.8 385.3,573.8 385.8,573.5 386.3,574.2 386.8,573.8 387.3,573.8 387.3,570.7 387.3,578.3 387.3,573.8 387.8,574.0 388.2,574.6 388.7,574.4 389.2,573.5 389.7,574.9 390.1,573.8 390.6,573.8 390.6,568.2 390.6,582.2 391.3,579.5 391.9,579.3 392.4,578.3 392.8,577.9 393.3,578.1 393.8,577.1 394.2,578.8 394.6,578.5 395.1,577.1 395.6,576.8 396.0,577.5 396.5,576.5 397.0,577.7 397.5,576.7 398.0,576.7 398.5,576.4 399.0,576.3 399.5,575.6 400.0,576.0 400.5,575.9 400.9,575.1 401.4,575.6 401.8,575.7 402.3,575.7 402.7,575.2 403.2,574.8 403.7,575.2 404.1,574.8 404.6,575.7 405.0,575.2 405.5,574.7 405.9,574.4 406.4,574.5 406.9,574.2 407.3,574.1 407.8,574.4 408.2,574.7 408.7,574.9 409.1,574.9 409.6,575.7 410.0,574.3 410.5,574.7 410.9,576.1 411.4,573.8 411.8,574.5 412.3,574.9 412.7,574.9 413.2,575.0 413.6,574.7 414.1,575.0 414.5,574.9 415.0,574.9 415.5,575.3 415.9,574.0 416.4,574.5 416.8,575.0 417.3,574.5 417.7,574.5 418.2,575.3 418.6,574.7 419.1,575.4 419.5,575.5 420.0,575.3 420.5,575.4 420.9,575.1 421.4,574.4 421.8,575.2 422.3,575.4 422.7,574.9 423.2,575.2 423.6,575.6 424.1,574.8 424.5,575.6 425.0,575.3 425.5,576.2 425.9,575.0 426.4,575.4 426.9,575.2 427.3,576.1 427.8,575.5 428.3,575.7 428.7,575.0 429.2,575.3 429.7,575.3 430.1,574.4 430.6,575.3 430.6,570.7 430.6,578.3 430.6,575.0 431.1,575.7 431.5,575.4 432.0,574.0 432.5,575.2 432.9,574.8 433.4,575.0 433.8,574.9 434.3,574.0 434.8,574.6 435.2,575.4 435.7,574.6 435.7,570.7 435.7,578.3 435.7,574.3 436.2,574.0 436.7,573.7 437.1,573.5 437.6,573.5 438.1,574.3 438.6,574.9 439.1,574.2 439.6,574.1 440.1,575.0 440.5,573.6 441.0,573.5 441.5,573.8" fill="none" stroke="#000" stroke-width="1.25" stroke-linejoin="miter"/>
<polyline points="88.8,541.5 89.4,547.0 90.1,551.6 90.5,550.9 91.0,550.5 91.5,552.1 92.0,553.0 92.5,553.4 93.0,554.0 93.4,554.1 93.9,555.4 94.5,556.1 95.0,557.0 95.5,558.9 96.0,559.6 96.5,560.5 97.0,562.1 97.5,562.3 98.0,563.0 98.5,564.0 99.0,564.4 99.5,564.2 100.0,562.6 100.5,563.4 101.0,564.1 101.5,564.0 102.0,563.8 102.5,563.6 103.0,561.6 103.6,561.1 104.1,561.8 104.6,561.1 105.1,561.1 105.5,561.3 106.0,560.9 106.5,561.0 107.0,560.5 107.5,559.8 108.0,559.9 108.5,559.6 108.9,558.7 109.4,559.6 109.9,558.6 110.4,558.0 110.9,558.5 111.4,557.5 112.0,557.4 112.5,557.5 113.0,557.6 113.5,557.2 114.0,557.3 114.5,556.7 115.0,556.3 115.5,555.9 116.0,555.5 116.5,555.6 117.1,556.3 117.6,555.1 118.1,555.4 118.8,555.4" fill="none" stroke="#000" stroke-width="2.7" stroke-linejoin="miter"/>
<polyline points="118.8,555.3 119.3,555.3 119.7,555.2 120.2,554.1 120.6,554.7 121.1,555.2 121.5,553.3 122.0,554.2 122.5,553.9 122.9,553.9 123.4,553.5 123.8,554.0 124.3,553.7 124.8,552.9 125.2,553.9 125.7,553.4 126.2,553.8 126.6,554.1 127.1,554.4 127.5,554.0 128.0,553.9 128.5,553.8 129.0,553.0 129.5,553.8 130.0,553.1 130.5,553.0 131.0,553.1 131.5,552.6 132.0,552.8 132.5,553.1 133.0,554.1 133.5,552.5 134.0,553.6 134.5,552.8 134.9,553.7 135.4,554.2 135.8,553.8 136.3,552.5 136.7,552.2 137.2,553.4 137.9,552.9" fill="none" stroke="#000" stroke-width="2.7" stroke-linejoin="miter"/>
<polyline points="137.9,575.8 138.3,566.9 138.9,566.6 139.4,565.6" fill="none" stroke="#000" stroke-width="2.7" stroke-linejoin="miter"/>
<polyline points="139.4,565.6 140.0,565.5 140.5,564.8 141.0,565.4 141.5,565.1 142.0,564.5 142.5,564.2 143.0,564.1 143.5,563.6 143.9,564.1 144.4,563.6 144.8,563.5 145.3,563.4 145.8,562.3 146.2,563.4 146.7,563.2 147.1,562.9 147.6,561.7 148.0,562.4 148.5,562.0 148.9,562.5 149.4,561.3 149.9,561.9 150.4,562.2 150.8,561.1 151.3,562.3 151.8,561.7 152.3,561.3 152.8,561.4 153.2,561.4 153.7,561.0 154.1,561.0 154.6,561.4 155.0,560.6 155.5,560.6 155.9,561.2 156.4,560.7 156.8,560.2 157.3,560.9 157.8,561.1 158.2,560.2 158.7,559.8 159.1,560.3 159.6,560.2 160.0,560.2 160.5,560.0 160.9,560.7 161.4,559.6 161.8,560.5 162.3,559.3 162.7,559.5 163.2,560.0 163.7,560.2 164.1,560.0 164.6,559.7 165.0,559.6 165.5,559.5 165.9,559.6 166.4,559.3 166.9,559.2 167.3,559.4 167.8,559.5 168.2,559.2 168.7,559.5 169.1,559.4 169.6,560.0 170.0,559.3 170.5,558.9 170.9,558.9 171.4,559.1 171.8,559.4 172.3,558.9 172.7,559.2 173.2,559.8 173.6,557.9 174.1,558.5 174.5,559.0 175.0,558.9 175.5,559.1 176.0,559.0 176.4,558.7 176.9,559.1 177.4,558.9 177.9,558.6 178.3,559.8 178.8,558.9 179.3,558.5 179.8,558.7 180.3,558.6 180.7,558.7 181.2,557.6 181.7,558.7 182.0,564.6" fill="none" stroke="#000" stroke-width="2.1" stroke-linejoin="miter"/>
<polyline points="182.0,558.7 182.5,558.5 182.9,559.1 183.4,558.2 183.8,558.7 184.3,558.7" fill="none" stroke="#000" stroke-width="2.1" stroke-linejoin="miter"/>
<polyline points="184.3,558.7 184.8,559.1 185.4,559.0 185.9,559.2 186.4,558.5" fill="none" stroke="#000" stroke-width="2.1" stroke-linejoin="miter"/>
<polyline points="186.4,558.5 186.9,557.8 187.5,558.4 188.1,558.4 188.6,558.5" fill="none" stroke="#000" stroke-width="2.1" stroke-linejoin="miter"/>
<polyline points="188.6,579.6 189.1,579.2 189.5,578.3 190.0,578.2 190.5,576.0 191.0,577.0 191.5,576.0 192.0,575.0 192.5,575.6 192.9,574.3 193.4,574.6 193.9,574.7 194.4,573.8 194.9,573.5 195.4,573.4 195.9,573.4 196.5,572.8 197.0,572.5 197.5,572.9 198.0,572.0 198.5,572.3 199.0,571.6 199.5,572.7 200.0,570.9 200.5,571.6 201.0,570.9 201.5,570.9 202.0,570.7 202.5,570.9 202.9,570.5 203.4,570.6 203.8,569.5 204.3,569.4 204.7,570.2 205.2,569.4 205.6,569.3 206.1,568.9 206.5,570.0 207.0,569.3 207.5,569.5 207.9,569.7 208.4,568.6 208.9,568.9 209.4,568.3 209.8,569.0 210.3,569.3 210.8,568.1 211.3,569.1 211.7,568.7 212.2,568.2 212.7,568.1 213.2,567.3 213.6,568.6 214.1,567.9 214.6,567.7 215.1,568.0 215.6,568.0 216.1,568.4 216.6,567.2 217.0,568.1 217.5,568.2 218.0,567.5 218.5,568.1 218.9,567.3 219.4,567.1 219.9,567.8 220.3,567.3 220.8,567.3 221.3,567.8 221.7,567.1 222.2,566.2 222.7,566.9 223.1,566.3 223.6,567.4 224.1,567.1 224.5,566.7 225.0,566.9 225.4,566.8 225.9,567.0 226.3,566.6 226.8,567.0 227.2,566.3 227.7,566.7 228.2,566.8 228.6,566.7 229.1,565.6 229.5,566.2 230.0,564.9 230.4,565.6 231.1,565.1 231.7,565.5" fill="none" stroke="#000" stroke-width="2.1" stroke-linejoin="miter"/>
<polyline points="231.7,565.3 232.2,564.4 232.6,565.7 233.1,564.6 233.5,565.1 234.0,565.0 234.5,565.0 234.9,564.7 235.4,565.0 235.8,565.6 236.3,564.9" fill="none" stroke="#000" stroke-width="2.1" stroke-linejoin="miter"/>
<polyline points="236.3,564.9 236.8,565.0 237.2,565.1 237.7,564.6 238.2,564.2 238.6,564.4 239.1,565.0 239.5,563.9 240.0,564.5 240.5,564.2 240.9,564.8 241.4,564.7 241.8,564.3 242.3,564.6 242.8,564.3 243.2,563.7 243.7,563.5 244.2,563.8 244.6,564.4 245.1,563.7 245.5,563.6 246.0,563.6 246.5,563.2 246.9,563.7 247.4,563.3 247.8,563.8 248.3,563.6 248.8,562.7 249.2,563.6 249.7,563.2 250.1,562.7 250.6,563.7 251.1,563.2 251.5,562.5 252.0,562.9 252.5,563.3 252.9,563.0 253.4,563.4 253.8,563.4 254.3,563.3 254.8,563.1 255.2,563.5 255.7,563.2 256.2,563.0 256.6,562.0 257.1,563.1 257.5,563.2 258.0,562.7 258.5,562.5 258.9,562.4 259.4,563.3 259.8,561.9 260.3,562.7 260.8,563.4 261.2,562.1 261.7,562.6 262.1,563.1 262.6,562.3 263.1,562.5 263.5,562.6 264.0,561.8 264.5,562.1 264.9,562.2 265.4,562.4 265.8,562.0 266.3,561.9 266.8,561.6 267.2,561.8 267.7,562.2 268.1,561.9 268.6,561.8 269.1,561.4 269.5,561.4 270.0,562.7 270.5,562.1 270.9,561.8 271.4,560.5 271.9,561.7 272.3,561.6 272.8,562.0 273.3,561.5 273.7,561.3 274.2,561.5 274.7,560.5 275.1,561.6 275.6,561.3 276.1,560.8 276.5,561.5 277.0,561.0 277.5,561.7 277.9,560.4 278.4,560.7 278.9,561.0 279.4,560.9 279.8,560.7 280.3,560.5 280.8,561.6 281.2,561.2 281.7,560.3 282.2,560.2 282.6,561.3 283.1,561.1 283.6,561.3 284.0,560.9 284.5,560.3 285.0,560.7 285.5,559.7 285.9,560.2 286.4,560.5 286.9,560.5 287.3,560.7 287.8,560.2 288.2,560.4 288.7,560.6 289.1,560.5 289.6,560.6 290.0,560.4 290.5,560.2 290.9,560.6 291.4,560.3 291.8,559.9 292.3,560.0 292.7,560.2 293.2,560.1 293.6,560.2 294.1,560.1 294.5,560.2 295.0,560.1 295.5,560.1 295.9,559.7 296.4,560.3 296.8,560.6 297.3,560.3 297.7,560.1 298.2,560.4 298.6,559.9 299.1,559.5 299.5,560.3 300.0,559.9 300.4,560.6 300.9,559.9 301.4,559.3 301.8,559.9 302.3,560.9 302.7,560.2 303.2,559.9 303.6,560.1 304.1,560.6 304.5,560.6 305.0,560.5 305.4,561.0 305.9,560.7 306.3,560.5 306.8,560.5 307.3,560.7 307.7,561.1 308.2,560.8 308.6,560.9 309.1,560.1 309.5,560.4 310.0,560.7 310.4,560.3 310.9,560.8 311.4,560.7 311.8,560.8 312.3,560.3 312.7,561.4 313.2,560.9 313.6,560.3 314.1,560.4 314.5,561.4 315.0,560.2 315.4,560.7 315.9,560.7 316.4,560.4 316.8,559.9 317.3,560.4 317.7,560.5 318.2,560.8 318.6,560.6 319.1,560.3 319.5,560.6 320.0,560.3 320.5,560.5 320.9,560.4 321.4,560.3 321.9,560.2 322.3,560.6 322.8,559.9 323.2,560.1 323.7,560.4 324.2,559.8 324.6,560.2 325.1,559.6 325.6,560.1 326.0,560.6 326.5,560.6 326.9,560.4 327.4,560.3 327.9,559.9 328.3,561.1 328.8,560.6 329.2,560.8 329.7,560.1 330.2,560.4 330.6,559.8 331.1,560.7 331.6,560.8 332.0,559.7 332.5,560.4 332.9,560.7 333.4,559.8 333.9,559.8 334.3,560.1 334.8,560.5" fill="none" stroke="#000" stroke-width="1.9" stroke-linejoin="miter"/>
<polyline points="334.8,560.5 335.3,560.3 335.8,560.0 336.4,560.5 336.9,560.6 337.4,560.5" fill="none" stroke="#000" stroke-width="1.9" stroke-linejoin="miter"/>
<polyline points="337.4,560.5 337.9,560.7 338.3,560.8 338.8,561.1 339.2,560.9 339.7,560.0 340.1,560.2 340.6,560.5 340.8,582.2 341.5,579.0 342.1,577.5 342.8,577.1 343.3,576.4 343.7,576.7 344.2,576.5 344.6,576.6 345.1,575.4 345.5,575.4 346.0,575.8 346.5,575.7 346.9,575.5 347.4,575.4 347.9,575.4 348.3,575.0 348.8,575.6 349.3,575.4 349.7,575.1 350.2,574.7 350.7,574.8 351.1,573.5 351.6,574.3 352.1,574.7 352.5,573.8 353.0,574.5 353.5,574.6 353.9,574.5 354.4,573.8 354.8,574.3 355.3,574.2 355.8,574.6 356.2,574.7 356.7,574.3 357.2,573.9 357.6,574.2 358.1,574.3 358.5,574.6 359.0,574.4 359.5,573.9 359.9,573.5 360.4,574.0 360.8,573.8 361.3,573.6 361.8,574.1 362.2,573.9 362.7,574.1 363.2,574.3 363.6,573.9 364.1,575.2 364.5,573.9 365.0,574.0 365.5,574.5 365.9,574.1 366.4,574.5 366.8,572.8 367.3,573.6 367.7,574.1 368.2,574.3 368.6,575.1 369.1,574.1 369.5,574.6 370.0,574.3 370.4,574.4 370.9,574.2 371.3,573.9 371.8,574.2 372.2,573.4 372.7,574.5 373.1,573.4 373.6,574.0 374.0,575.0 374.5,573.8 374.9,573.9 375.4,574.5 375.8,573.9 376.3,573.5 376.7,574.0 377.2,574.2 377.6,574.2 378.1,573.5 378.5,574.7 379.0,574.7 379.4,573.9 379.9,574.0 380.3,573.6 380.8,574.5 381.2,573.5 381.7,574.2 382.1,573.6 382.6,573.5 383.0,574.2 383.5,573.8 384.1,574.5 384.8,573.8" fill="none" stroke="#000" stroke-width="1.9" stroke-linejoin="miter"/>
<polyline points="384.8,573.8 385.3,573.8 385.8,573.5 386.3,574.2 386.8,573.8 387.3,573.8" fill="none" stroke="#000" stroke-width="1.9" stroke-linejoin="miter"/>
<polyline points="387.3,573.8 387.8,574.0 388.2,574.6 388.7,574.4 389.2,573.5 389.7,574.9 390.1,573.8 390.6,573.8" fill="none" stroke="#000" stroke-width="1.9" stroke-linejoin="miter"/>
<polyline points="390.6,582.2 391.3,579.5 391.9,579.3 392.4,578.3 392.8,577.9 393.3,578.1 393.8,577.1 394.2,578.8 394.6,578.5 395.1,577.1 395.6,576.8 396.0,577.5 396.5,576.5 397.0,577.7 397.5,576.7 398.0,576.7 398.5,576.4 399.0,576.3 399.5,575.6 400.0,576.0 400.5,575.9 400.9,575.1 401.4,575.6 401.8,575.7 402.3,575.7 402.7,575.2 403.2,574.8 403.7,575.2 404.1,574.8 404.6,575.7 405.0,575.2 405.5,574.7 405.9,574.4 406.4,574.5 406.9,574.2 407.3,574.1 407.8,574.4 408.2,574.7 408.7,574.9 409.1,574.9 409.6,575.7 410.0,574.3 410.5,574.7 410.9,576.1 411.4,573.8 411.8,574.5 412.3,574.9 412.7,574.9 413.2,575.0 413.6,574.7 414.1,575.0 414.5,574.9 415.0,574.9 415.5,575.3 415.9,574.0 416.4,574.5 416.8,575.0 417.3,574.5 417.7,574.5 418.2,575.3 418.6,574.7 419.1,575.4 419.5,575.5 420.0,575.3 420.5,575.4 420.9,575.1 421.4,574.4 421.8,575.2 422.3,575.4 422.7,574.9 423.2,575.2 423.6,575.6 424.1,574.8 424.5,575.6 425.0,575.3 425.5,576.2 425.9,575.0 426.4,575.4 426.9,575.2 427.3,576.1 427.8,575.5 428.3,575.7 428.7,575.0 429.2,575.3 429.7,575.3 430.1,574.4 430.6,575.3" fill="none" stroke="#000" stroke-width="1.9" stroke-linejoin="miter"/>
<polyline points="430.6,575.0 431.1,575.7 431.5,575.4 432.0,574.0 432.5,575.2 432.9,574.8 433.4,575.0 433.8,574.9 434.3,574.0 434.8,574.6 435.2,575.4 435.7,574.6" fill="none" stroke="#000" stroke-width="1.9" stroke-linejoin="miter"/>
<polyline points="435.7,574.3 436.2,574.0 436.7,573.7 437.1,573.5 437.6,573.5 438.1,574.3 438.6,574.9 439.1,574.2 439.6,574.1 440.1,575.0 440.5,573.6 441.0,573.5 441.5,573.8" fill="none" stroke="#000" stroke-width="1.9" stroke-linejoin="miter"/>
<rect x="89.50" y="695.40" width="7.00" height="7.00" fill="#000000" stroke="#000000" stroke-width="1.0"/>
<rect x="136.10" y="696.80" width="7.00" height="7.00" fill="#000000" stroke="#000000" stroke-width="1.0"/>
<rect x="140.00" y="696.80" width="7.00" height="7.00" fill="#000000" stroke="#000000" stroke-width="1.0"/>
<rect x="189.10" y="697.10" width="7.00" height="7.00" fill="#000000" stroke="#000000" stroke-width="1.0"/>
<rect x="194.20" y="697.10" width="7.00" height="7.00" fill="#000000" stroke="#000000" stroke-width="1.0"/>
<rect x="344.80" y="696.90" width="7.00" height="7.00" fill="#000000" stroke="#000000" stroke-width="1.0"/>
<rect x="349.20" y="696.90" width="7.00" height="7.00" fill="#000000" stroke="#000000" stroke-width="1.0"/>
<rect x="397.50" y="696.50" width="7.00" height="7.00" fill="#000000" stroke="#000000" stroke-width="1.0"/>
<rect x="403.70" y="696.50" width="7.00" height="7.00" fill="#000000" stroke="#000000" stroke-width="1.0"/>
<rect x="450.0" y="695.9" width="7.7" height="6.9" fill="#000"/>
<circle cx="90.00" cy="475.00" r="4.00" fill="#ff0000" stroke="#ff0000" stroke-width="1.0"/>
<circle cx="92.50" cy="474.20" r="4.00" fill="#ff0000" stroke="#ff0000" stroke-width="1.0"/>
<circle cx="89.20" cy="483.50" r="4.00" fill="#ff0000" stroke="#ff0000" stroke-width="1.0"/>
<circle cx="139.50" cy="476.50" r="4.00" fill="#ff0000" stroke="#ff0000" stroke-width="1.0"/>
<circle cx="143.30" cy="475.60" r="4.00" fill="#ff0000" stroke="#ff0000" stroke-width="1.0"/>
<circle cx="198.10" cy="474.80" r="4.00" fill="#ff0000" stroke="#ff0000" stroke-width="1.0"/>
<circle cx="198.40" cy="482.70" r="4.00" fill="#ff0000" stroke="#ff0000" stroke-width="1.0"/>
<circle cx="353.60" cy="484.60" r="4.00" fill="#ff0000" stroke="#ff0000" stroke-width="1.0"/>
<circle cx="348.60" cy="489.60" r="4.00" fill="#ff0000" stroke="#ff0000" stroke-width="1.0"/>
<circle cx="403.80" cy="480.40" r="4.00" fill="#ff0000" stroke="#ff0000" stroke-width="1.0"/>
<circle cx="407.30" cy="490.40" r="4.00" fill="#ff0000" stroke="#ff0000" stroke-width="1.0"/>
<circle cx="453.90" cy="483.50" r="4.00" fill="#ff0000" stroke="#ff0000" stroke-width="1.0"/>
<polygon points="90.60,462.80 86.27,470.30 94.93,470.30" fill="#00ff00" stroke="#00ff00" stroke-width="1.0" stroke-linejoin="miter" stroke-miterlimit="10"/>
<polygon points="139.30,458.20 134.68,466.20 143.92,466.20" fill="#00ff00" stroke="#00ff00" stroke-width="1.0" stroke-linejoin="miter" stroke-miterlimit="10"/>
<polygon points="143.40,458.20 138.78,466.20 148.02,466.20" fill="#00ff00" stroke="#00ff00" stroke-width="1.0" stroke-linejoin="miter" stroke-miterlimit="10"/>
<polygon points="192.00,456.20 187.27,464.40 196.73,464.40" fill="#00ff00" stroke="#00ff00" stroke-width="1.0" stroke-linejoin="miter" stroke-miterlimit="10"/>
<polygon points="197.60,455.10 193.44,462.30 201.76,462.30" fill="#00ff00" stroke="#00ff00" stroke-width="1.0" stroke-linejoin="miter" stroke-miterlimit="10"/>
<polygon points="198.40,460.60 193.84,468.50 202.96,468.50" fill="#00ff00" stroke="#00ff00" stroke-width="1.0" stroke-linejoin="miter" stroke-miterlimit="10"/>
<polygon points="352.60,463.30 347.92,471.40 357.28,471.40" fill="#00ff00" stroke="#00ff00" stroke-width="1.0" stroke-linejoin="miter" stroke-miterlimit="10"/>
<polygon points="348.00,467.20 343.32,475.30 352.68,475.30" fill="#00ff00" stroke="#00ff00" stroke-width="1.0" stroke-linejoin="miter" stroke-miterlimit="10"/>
<polygon points="407.20,465.00 402.64,472.90 411.76,472.90" fill="#00ff00" stroke="#00ff00" stroke-width="1.0" stroke-linejoin="miter" stroke-miterlimit="10"/>
<polygon points="453.90,460.20 449.69,467.50 458.11,467.50" fill="#00ff00" stroke="#00ff00" stroke-width="1.0" stroke-linejoin="miter" stroke-miterlimit="10"/>
<polygon points="198.00,590.00 192.57,580.60 203.43,580.60" fill="#0000ff" stroke="#0000ff" stroke-width="1.0" stroke-linejoin="miter" stroke-miterlimit="10"/>
<polygon points="352.50,591.00 347.25,581.90 357.75,581.90" fill="#0000ff" stroke="#0000ff" stroke-width="1.0" stroke-linejoin="miter" stroke-miterlimit="10"/>
<polygon points="406.50,591.50 401.25,582.40 411.75,582.40" fill="#0000ff" stroke="#0000ff" stroke-width="1.0" stroke-linejoin="miter" stroke-miterlimit="10"/>
<polygon points="453.60,592.50 449.04,584.60 458.16,584.60" fill="#0000ff" stroke="#0000ff" stroke-width="1.0" stroke-linejoin="miter" stroke-miterlimit="10"/>
<polygon points="93.50,585.61 97.89,590.00 93.50,594.39 89.11,590.00" fill="#00ffff" stroke="#00ffff" stroke-width="1.0" stroke-linejoin="miter"/>
<polygon points="138.60,584.71 142.99,589.10 138.60,593.49 134.21,589.10" fill="#00ffff" stroke="#00ffff" stroke-width="1.0" stroke-linejoin="miter"/>
<polygon points="143.50,584.71 147.89,589.10 143.50,593.49 139.11,589.10" fill="#00ffff" stroke="#00ffff" stroke-width="1.0" stroke-linejoin="miter"/>
<polygon points="192.30,584.71 196.69,589.10 192.30,593.49 187.91,589.10" fill="#00ffff" stroke="#00ffff" stroke-width="1.0" stroke-linejoin="miter"/>
<polygon points="198.00,584.41 202.39,588.80 198.00,593.19 193.61,588.80" fill="#00ffff" stroke="#00ffff" stroke-width="1.0" stroke-linejoin="miter"/>
<polygon points="352.40,585.71 356.79,590.10 352.40,594.49 348.01,590.10" fill="#00ffff" stroke="#00ffff" stroke-width="1.0" stroke-linejoin="miter"/>
<polygon points="347.80,585.41 352.19,589.80 347.80,594.19 343.41,589.80" fill="#00ffff" stroke="#00ffff" stroke-width="1.0" stroke-linejoin="miter"/>
<polygon points="407.70,586.51 412.09,590.90 407.70,595.29 403.31,590.90" fill="#00ffff" stroke="#00ffff" stroke-width="1.0" stroke-linejoin="miter"/>
<polygon points="401.50,586.21 405.89,590.60 401.50,594.99 397.11,590.60" fill="#00ffff" stroke="#00ffff" stroke-width="1.0" stroke-linejoin="miter"/>
<polygon points="453.50,586.51 457.89,590.90 453.50,595.29 449.11,590.90" fill="#00ffff" stroke="#00ffff" stroke-width="1.0" stroke-linejoin="miter"/>
<polygon points="93.00,707.60 93.83,710.06 96.42,710.09 94.34,711.63 95.12,714.11 93.00,712.60 90.88,714.11 91.66,711.63 89.58,710.09 92.17,710.06" fill="#ff00ff" stroke="#ff00ff" stroke-width="0.6"/>
<polygon points="140.30,708.60 141.13,711.06 143.72,711.09 141.64,712.63 142.42,715.11 140.30,713.60 138.18,715.11 138.96,712.63 136.88,711.09 139.47,711.06" fill="#ff00ff" stroke="#ff00ff" stroke-width="0.6"/>
<rect x="86.10" y="703.50" width="5.00" height="5.00" fill="#fff" stroke="#000000" stroke-width="2.0"/>
<rect x="90.50" y="701.30" width="5.00" height="5.00" fill="#fff" stroke="#000000" stroke-width="2.0"/>
<rect x="137.80" y="703.60" width="4.80" height="4.80" fill="#fff" stroke="#000000" stroke-width="2.0"/>
<rect x="190.20" y="703.10" width="5.20" height="5.20" fill="#fff" stroke="#000000" stroke-width="2.0"/>
<rect x="345.90" y="702.70" width="5.60" height="5.60" fill="#fff" stroke="#000000" stroke-width="2.0"/>
<rect x="398.20" y="702.70" width="5.60" height="5.60" fill="#fff" stroke="#000000" stroke-width="2.0"/>
<circle cx="89.30" cy="468.40" r="3.30" fill="#fff" stroke="#ff0000" stroke-width="2.4"/>
<circle cx="92.80" cy="481.80" r="3.30" fill="#fff" stroke="#ff0000" stroke-width="2.4"/>
<circle cx="140.00" cy="474.60" r="3.30" fill="#fff" stroke="#ff0000" stroke-width="2.4"/>
<circle cx="140.00" cy="470.10" r="3.30" fill="#fff" stroke="#ff0000" stroke-width="2.4"/>
<circle cx="191.70" cy="473.70" r="3.30" fill="#fff" stroke="#ff0000" stroke-width="2.4"/>
<circle cx="192.30" cy="475.10" r="3.30" fill="#fff" stroke="#ff0000" stroke-width="2.4"/>
<circle cx="347.60" cy="480.20" r="3.30" fill="#fff" stroke="#ff0000" stroke-width="2.4"/>
<circle cx="349.30" cy="479.20" r="3.30" fill="#fff" stroke="#ff0000" stroke-width="2.4"/>
<circle cx="399.70" cy="479.50" r="3.30" fill="#fff" stroke="#ff0000" stroke-width="2.4"/>
<circle cx="401.70" cy="486.80" r="3.30" fill="#fff" stroke="#ff0000" stroke-width="2.4"/>
<polygon points="89.30,455.20 85.58,461.65 93.02,461.65" fill="#fff" stroke="#00ff00" stroke-width="1.9" stroke-linejoin="miter" stroke-miterlimit="10"/>
<polygon points="89.60,451.10 86.11,457.15 93.09,457.15" fill="#fff" stroke="#00ff00" stroke-width="1.9" stroke-linejoin="miter" stroke-miterlimit="10"/>
<polygon points="93.10,459.70 89.26,466.35 96.94,466.35" fill="#fff" stroke="#00ff00" stroke-width="1.9" stroke-linejoin="miter" stroke-miterlimit="10"/>
<polygon points="140.40,456.30 137.72,460.95 143.08,460.95" fill="#fff" stroke="#00ff00" stroke-width="1.9" stroke-linejoin="miter" stroke-miterlimit="10"/>
<polygon points="140.50,451.70 137.35,457.15 143.65,457.15" fill="#fff" stroke="#00ff00" stroke-width="1.9" stroke-linejoin="miter" stroke-miterlimit="10"/>
<polygon points="192.60,451.70 188.65,458.55 196.55,458.55" fill="#fff" stroke="#00ff00" stroke-width="1.9" stroke-linejoin="miter" stroke-miterlimit="10"/>
<polygon points="348.20,457.70 344.82,463.55 351.58,463.55" fill="#fff" stroke="#00ff00" stroke-width="1.9" stroke-linejoin="miter" stroke-miterlimit="10"/>
<polygon points="349.70,456.90 345.98,463.35 353.42,463.35" fill="#fff" stroke="#00ff00" stroke-width="1.9" stroke-linejoin="miter" stroke-miterlimit="10"/>
<polygon points="402.30,460.30 398.35,467.15 406.25,467.15" fill="#fff" stroke="#00ff00" stroke-width="1.9" stroke-linejoin="miter" stroke-miterlimit="10"/>
<polygon points="399.70,457.00 396.38,462.75 403.02,462.75" fill="#fff" stroke="#00ff00" stroke-width="1.9" stroke-linejoin="miter" stroke-miterlimit="10"/>
<polygon points="91.50,589.00 86.88,581.00 96.12,581.00" fill="#fff" stroke="#0000ff" stroke-width="2.0" stroke-linejoin="miter" stroke-miterlimit="10"/>
<polygon points="140.50,589.40 135.71,581.10 145.29,581.10" fill="#fff" stroke="#0000ff" stroke-width="2.0" stroke-linejoin="miter" stroke-miterlimit="10"/>
<polygon points="192.50,589.00 187.94,581.10 197.06,581.10" fill="#fff" stroke="#0000ff" stroke-width="2.0" stroke-linejoin="miter" stroke-miterlimit="10"/>
<polygon points="349.20,590.20 344.70,582.40 353.70,582.40" fill="#fff" stroke="#0000ff" stroke-width="2.0" stroke-linejoin="miter" stroke-miterlimit="10"/>
<polygon points="401.50,590.60 397.05,582.90 405.95,582.90" fill="#fff" stroke="#0000ff" stroke-width="2.0" stroke-linejoin="miter" stroke-miterlimit="10"/>
<polygon points="92.30,581.21 95.79,584.70 92.30,588.19 88.81,584.70" fill="#fff" stroke="#00ffff" stroke-width="2.0" stroke-linejoin="miter"/>
<polygon points="140.60,578.91 144.09,582.40 140.60,585.89 137.11,582.40" fill="#fff" stroke="#00ffff" stroke-width="2.0" stroke-linejoin="miter"/>
<polygon points="192.80,579.51 196.29,583.00 192.80,586.49 189.31,583.00" fill="#fff" stroke="#00ffff" stroke-width="2.0" stroke-linejoin="miter"/>
<polygon points="349.10,580.01 352.59,583.50 349.10,586.99 345.61,583.50" fill="#fff" stroke="#00ffff" stroke-width="2.0" stroke-linejoin="miter"/>
<polygon points="401.40,580.61 404.89,584.10 401.40,587.59 397.91,584.10" fill="#fff" stroke="#00ffff" stroke-width="2.0" stroke-linejoin="miter"/>
<polygon points="90.00,694.20 91.01,697.21 94.18,697.24 91.63,699.13 92.59,702.16 90.00,700.32 87.41,702.16 88.37,699.13 85.82,697.24 88.99,697.21" fill="#fff" stroke="#ff00ff" stroke-width="1.6"/>
</g>
<text x="104.20" y="433.20" font-size="20.6" text-anchor="start" font-family="Liberation Sans, sans-serif" font-weight="bold" >(B) Ni/GDC</text>
<text x="474.40" y="412.30" font-size="15.75" text-anchor="end" font-family="Liberation Sans, sans-serif" font-weight="bold" >Degradation rate: 0.506 mV/h</text>
<text x="281.60" y="757.70" font-size="19.2" text-anchor="middle" font-family="Liberation Sans, sans-serif" font-weight="bold" >Time (h)</text>
<text transform="translate(30.20,540.30) rotate(-90)" font-size="19.25" text-anchor="middle" font-family="Liberation Sans, sans-serif" font-weight="bold">Potential (V) at 227 mA cm<tspan font-size="11.9" dy="-8.9">-2</tspan></text>
<text transform="translate(534.00,552.80) rotate(-90)" font-size="16.4" text-anchor="middle" font-family="Liberation Sans, sans-serif" font-weight="bold">Rates x 10<tspan font-size="10.2" dy="-7.5">3</tspan><tspan dy="7.7"> (µmol s</tspan><tspan font-size="10.2" dy="-7.5">-1</tspan><tspan dy="7.5"> g</tspan><tspan font-size="10.2" dy="-7.5">-1</tspan><tspan dy="7.5">)</tspan></text>
</svg>
</body></html>
